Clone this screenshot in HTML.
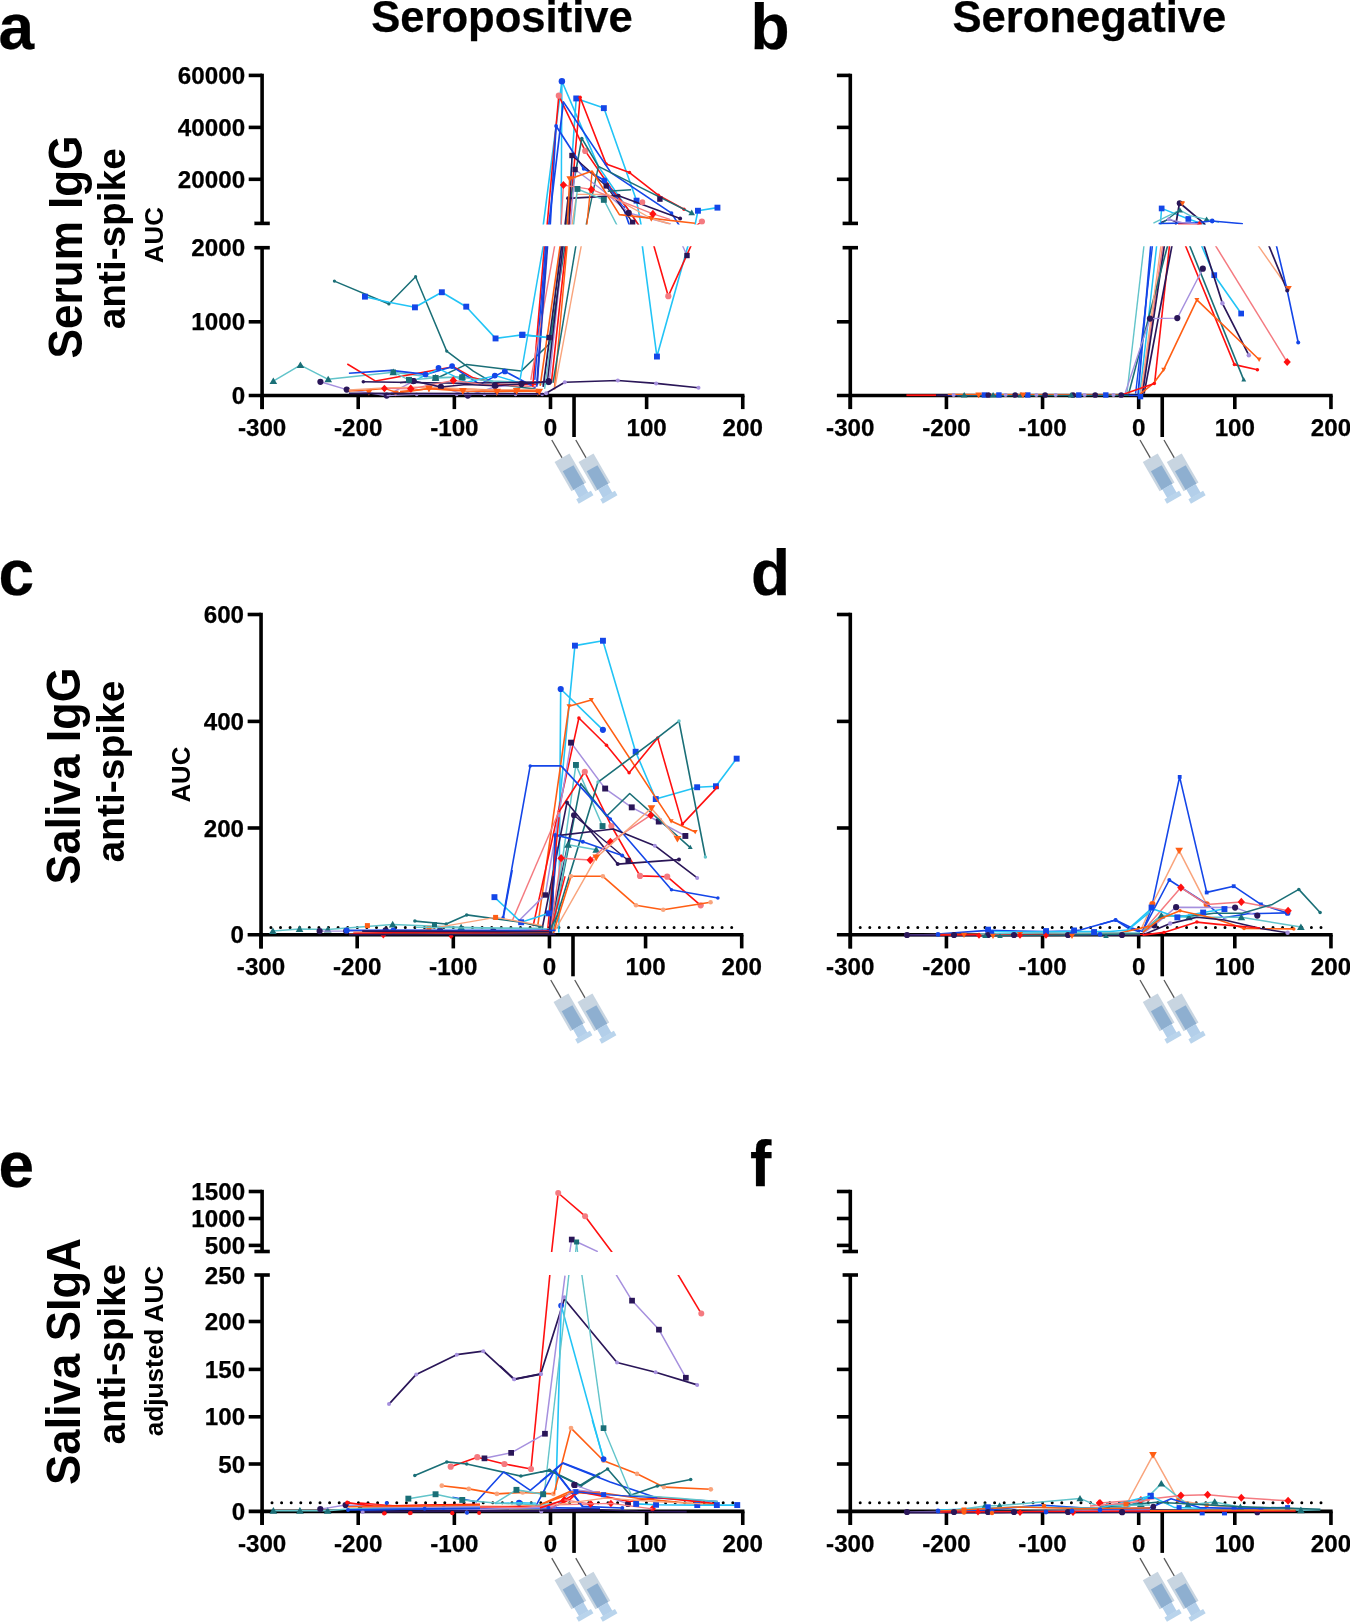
<!DOCTYPE html>
<html><head><meta charset="utf-8"><title>Figure</title>
<style>html,body{margin:0;padding:0;background:#fff;}svg{display:block;will-change:transform;}</style></head>
<body><svg width="1350" height="1623" viewBox="0 0 1350 1623">
<rect width="1350" height="1623" fill="#fff"/>
<defs><clipPath id="aU"><rect x="264" y="66" width="496" height="158.5"/></clipPath><clipPath id="aL"><rect x="264" y="246.3" width="496" height="154.7"/></clipPath><clipPath id="bU"><rect x="852" y="66" width="493" height="158.5"/></clipPath><clipPath id="bL"><rect x="852" y="246.3" width="493" height="154.7"/></clipPath><clipPath id="eU"><rect x="264" y="1185" width="496" height="67"/></clipPath><clipPath id="eL"><rect x="264" y="1275" width="496" height="242"/></clipPath><clipPath id="fU"><rect x="852" y="1185" width="493" height="67"/></clipPath><clipPath id="fL"><rect x="852" y="1275" width="493" height="242"/></clipPath></defs>
<line x1="262.10" y1="73.70" x2="262.10" y2="223.40" stroke="#000" stroke-width="3.6" stroke-linecap="butt"/>
<line x1="248.70" y1="75.40" x2="262.10" y2="75.40" stroke="#000" stroke-width="3.6" stroke-linecap="butt"/>
<text x="245.10" y="84.00" font-size="24.2" text-anchor="end" font-family="Liberation Sans, sans-serif" font-weight="bold" stroke="#000" stroke-width="0.25" >60000</text>
<line x1="248.70" y1="127.40" x2="262.10" y2="127.40" stroke="#000" stroke-width="3.6" stroke-linecap="butt"/>
<text x="245.10" y="136.00" font-size="24.2" text-anchor="end" font-family="Liberation Sans, sans-serif" font-weight="bold" stroke="#000" stroke-width="0.25" >40000</text>
<line x1="248.70" y1="179.30" x2="262.10" y2="179.30" stroke="#000" stroke-width="3.6" stroke-linecap="butt"/>
<text x="245.10" y="187.90" font-size="24.2" text-anchor="end" font-family="Liberation Sans, sans-serif" font-weight="bold" stroke="#000" stroke-width="0.25" >20000</text>
<line x1="254.40" y1="223.40" x2="269.80" y2="223.40" stroke="#000" stroke-width="3.6" stroke-linecap="butt"/>
<line x1="262.10" y1="247.70" x2="262.10" y2="409.10" stroke="#000" stroke-width="3.6" stroke-linecap="butt"/>
<line x1="254.40" y1="247.70" x2="269.80" y2="247.70" stroke="#000" stroke-width="3.6" stroke-linecap="butt"/>
<text x="245.10" y="256.30" font-size="24.2" text-anchor="end" font-family="Liberation Sans, sans-serif" font-weight="bold" stroke="#000" stroke-width="0.25" >2000</text>
<line x1="248.70" y1="321.80" x2="262.10" y2="321.80" stroke="#000" stroke-width="3.6" stroke-linecap="butt"/>
<text x="245.10" y="330.40" font-size="24.2" text-anchor="end" font-family="Liberation Sans, sans-serif" font-weight="bold" stroke="#000" stroke-width="0.25" >1000</text>
<text x="245.10" y="404.10" font-size="24.2" text-anchor="end" font-family="Liberation Sans, sans-serif" font-weight="bold" stroke="#000" stroke-width="0.25" >0</text>
<line x1="248.70" y1="395.50" x2="744.45" y2="395.50" stroke="#000" stroke-width="3.6" stroke-linecap="butt"/>
<line x1="262.10" y1="395.50" x2="262.10" y2="409.10" stroke="#000" stroke-width="3.6" stroke-linecap="butt"/>
<text x="262.10" y="435.80" font-size="24.2" text-anchor="middle" font-family="Liberation Sans, sans-serif" font-weight="bold" stroke="#000" stroke-width="0.25" >-300</text>
<line x1="358.23" y1="395.50" x2="358.23" y2="409.10" stroke="#000" stroke-width="3.6" stroke-linecap="butt"/>
<text x="358.23" y="435.80" font-size="24.2" text-anchor="middle" font-family="Liberation Sans, sans-serif" font-weight="bold" stroke="#000" stroke-width="0.25" >-200</text>
<line x1="454.36" y1="395.50" x2="454.36" y2="409.10" stroke="#000" stroke-width="3.6" stroke-linecap="butt"/>
<text x="454.36" y="435.80" font-size="24.2" text-anchor="middle" font-family="Liberation Sans, sans-serif" font-weight="bold" stroke="#000" stroke-width="0.25" >-100</text>
<line x1="550.49" y1="395.50" x2="550.49" y2="409.10" stroke="#000" stroke-width="3.6" stroke-linecap="butt"/>
<text x="550.49" y="435.80" font-size="24.2" text-anchor="middle" font-family="Liberation Sans, sans-serif" font-weight="bold" stroke="#000" stroke-width="0.25" >0</text>
<line x1="646.62" y1="395.50" x2="646.62" y2="409.10" stroke="#000" stroke-width="3.6" stroke-linecap="butt"/>
<text x="646.62" y="435.80" font-size="24.2" text-anchor="middle" font-family="Liberation Sans, sans-serif" font-weight="bold" stroke="#000" stroke-width="0.25" >100</text>
<line x1="742.75" y1="395.50" x2="742.75" y2="409.10" stroke="#000" stroke-width="3.6" stroke-linecap="butt"/>
<text x="742.75" y="435.80" font-size="24.2" text-anchor="middle" font-family="Liberation Sans, sans-serif" font-weight="bold" stroke="#000" stroke-width="0.25" >200</text>
<line x1="574.04" y1="395.50" x2="574.04" y2="437.00" stroke="#000" stroke-width="3.6" stroke-linecap="butt"/>
<g transform="translate(551.79,440.00) rotate(-30)"><line x1="0" y1="0" x2="0" y2="20.6" stroke="#5a5a5a" stroke-width="1.3"/><rect x="-8.6" y="20.5" width="17.2" height="33.6" fill="#c8d5e1"/><rect x="-6.2" y="32.6" width="12.4" height="21.6" fill="#8eafd0"/><rect x="-5.4" y="54" width="10.8" height="10" fill="#b3cfea"/><rect x="-8.5" y="63.6" width="17" height="5" fill="#b9d4ec"/></g>
<g transform="translate(575.79,440.00) rotate(-30)"><line x1="0" y1="0" x2="0" y2="20.6" stroke="#5a5a5a" stroke-width="1.3"/><rect x="-8.6" y="20.5" width="17.2" height="33.6" fill="#c8d5e1"/><rect x="-6.2" y="32.6" width="12.4" height="21.6" fill="#8eafd0"/><rect x="-5.4" y="54" width="10.8" height="10" fill="#b3cfea"/><rect x="-8.5" y="63.6" width="17" height="5" fill="#b9d4ec"/></g>
<line x1="850.30" y1="73.70" x2="850.30" y2="223.40" stroke="#000" stroke-width="3.6" stroke-linecap="butt"/>
<line x1="836.90" y1="75.40" x2="850.30" y2="75.40" stroke="#000" stroke-width="3.6" stroke-linecap="butt"/>
<line x1="836.90" y1="127.40" x2="850.30" y2="127.40" stroke="#000" stroke-width="3.6" stroke-linecap="butt"/>
<line x1="836.90" y1="179.30" x2="850.30" y2="179.30" stroke="#000" stroke-width="3.6" stroke-linecap="butt"/>
<line x1="842.60" y1="223.40" x2="858.00" y2="223.40" stroke="#000" stroke-width="3.6" stroke-linecap="butt"/>
<line x1="850.30" y1="247.70" x2="850.30" y2="409.10" stroke="#000" stroke-width="3.6" stroke-linecap="butt"/>
<line x1="842.60" y1="247.70" x2="858.00" y2="247.70" stroke="#000" stroke-width="3.6" stroke-linecap="butt"/>
<line x1="836.90" y1="321.80" x2="850.30" y2="321.80" stroke="#000" stroke-width="3.6" stroke-linecap="butt"/>
<line x1="836.90" y1="395.50" x2="1332.65" y2="395.50" stroke="#000" stroke-width="3.6" stroke-linecap="butt"/>
<line x1="850.30" y1="395.50" x2="850.30" y2="409.10" stroke="#000" stroke-width="3.6" stroke-linecap="butt"/>
<text x="850.30" y="435.80" font-size="24.2" text-anchor="middle" font-family="Liberation Sans, sans-serif" font-weight="bold" stroke="#000" stroke-width="0.25" >-300</text>
<line x1="946.43" y1="395.50" x2="946.43" y2="409.10" stroke="#000" stroke-width="3.6" stroke-linecap="butt"/>
<text x="946.43" y="435.80" font-size="24.2" text-anchor="middle" font-family="Liberation Sans, sans-serif" font-weight="bold" stroke="#000" stroke-width="0.25" >-200</text>
<line x1="1042.56" y1="395.50" x2="1042.56" y2="409.10" stroke="#000" stroke-width="3.6" stroke-linecap="butt"/>
<text x="1042.56" y="435.80" font-size="24.2" text-anchor="middle" font-family="Liberation Sans, sans-serif" font-weight="bold" stroke="#000" stroke-width="0.25" >-100</text>
<line x1="1138.69" y1="395.50" x2="1138.69" y2="409.10" stroke="#000" stroke-width="3.6" stroke-linecap="butt"/>
<text x="1138.69" y="435.80" font-size="24.2" text-anchor="middle" font-family="Liberation Sans, sans-serif" font-weight="bold" stroke="#000" stroke-width="0.25" >0</text>
<line x1="1234.82" y1="395.50" x2="1234.82" y2="409.10" stroke="#000" stroke-width="3.6" stroke-linecap="butt"/>
<text x="1234.82" y="435.80" font-size="24.2" text-anchor="middle" font-family="Liberation Sans, sans-serif" font-weight="bold" stroke="#000" stroke-width="0.25" >100</text>
<line x1="1330.95" y1="395.50" x2="1330.95" y2="409.10" stroke="#000" stroke-width="3.6" stroke-linecap="butt"/>
<text x="1330.95" y="435.80" font-size="24.2" text-anchor="middle" font-family="Liberation Sans, sans-serif" font-weight="bold" stroke="#000" stroke-width="0.25" >200</text>
<line x1="1162.24" y1="395.50" x2="1162.24" y2="437.00" stroke="#000" stroke-width="3.6" stroke-linecap="butt"/>
<g transform="translate(1139.99,440.00) rotate(-30)"><line x1="0" y1="0" x2="0" y2="20.6" stroke="#5a5a5a" stroke-width="1.3"/><rect x="-8.6" y="20.5" width="17.2" height="33.6" fill="#c8d5e1"/><rect x="-6.2" y="32.6" width="12.4" height="21.6" fill="#8eafd0"/><rect x="-5.4" y="54" width="10.8" height="10" fill="#b3cfea"/><rect x="-8.5" y="63.6" width="17" height="5" fill="#b9d4ec"/></g>
<g transform="translate(1163.99,440.00) rotate(-30)"><line x1="0" y1="0" x2="0" y2="20.6" stroke="#5a5a5a" stroke-width="1.3"/><rect x="-8.6" y="20.5" width="17.2" height="33.6" fill="#c8d5e1"/><rect x="-6.2" y="32.6" width="12.4" height="21.6" fill="#8eafd0"/><rect x="-5.4" y="54" width="10.8" height="10" fill="#b3cfea"/><rect x="-8.5" y="63.6" width="17" height="5" fill="#b9d4ec"/></g>
<line x1="261.05" y1="612.80" x2="261.05" y2="948.40" stroke="#000" stroke-width="3.6" stroke-linecap="butt"/>
<line x1="247.65" y1="614.50" x2="261.05" y2="614.50" stroke="#000" stroke-width="3.6" stroke-linecap="butt"/>
<text x="244.05" y="623.10" font-size="24.2" text-anchor="end" font-family="Liberation Sans, sans-serif" font-weight="bold" stroke="#000" stroke-width="0.25" >600</text>
<line x1="247.65" y1="721.40" x2="261.05" y2="721.40" stroke="#000" stroke-width="3.6" stroke-linecap="butt"/>
<text x="244.05" y="730.00" font-size="24.2" text-anchor="end" font-family="Liberation Sans, sans-serif" font-weight="bold" stroke="#000" stroke-width="0.25" >400</text>
<line x1="247.65" y1="828.00" x2="261.05" y2="828.00" stroke="#000" stroke-width="3.6" stroke-linecap="butt"/>
<text x="244.05" y="836.60" font-size="24.2" text-anchor="end" font-family="Liberation Sans, sans-serif" font-weight="bold" stroke="#000" stroke-width="0.25" >200</text>
<text x="244.05" y="943.40" font-size="24.2" text-anchor="end" font-family="Liberation Sans, sans-serif" font-weight="bold" stroke="#000" stroke-width="0.25" >0</text>
<line x1="247.65" y1="934.80" x2="743.40" y2="934.80" stroke="#000" stroke-width="3.6" stroke-linecap="butt"/>
<line x1="261.05" y1="934.80" x2="261.05" y2="948.40" stroke="#000" stroke-width="3.6" stroke-linecap="butt"/>
<text x="261.05" y="975.10" font-size="24.2" text-anchor="middle" font-family="Liberation Sans, sans-serif" font-weight="bold" stroke="#000" stroke-width="0.25" >-300</text>
<line x1="357.18" y1="934.80" x2="357.18" y2="948.40" stroke="#000" stroke-width="3.6" stroke-linecap="butt"/>
<text x="357.18" y="975.10" font-size="24.2" text-anchor="middle" font-family="Liberation Sans, sans-serif" font-weight="bold" stroke="#000" stroke-width="0.25" >-200</text>
<line x1="453.31" y1="934.80" x2="453.31" y2="948.40" stroke="#000" stroke-width="3.6" stroke-linecap="butt"/>
<text x="453.31" y="975.10" font-size="24.2" text-anchor="middle" font-family="Liberation Sans, sans-serif" font-weight="bold" stroke="#000" stroke-width="0.25" >-100</text>
<line x1="549.44" y1="934.80" x2="549.44" y2="948.40" stroke="#000" stroke-width="3.6" stroke-linecap="butt"/>
<text x="549.44" y="975.10" font-size="24.2" text-anchor="middle" font-family="Liberation Sans, sans-serif" font-weight="bold" stroke="#000" stroke-width="0.25" >0</text>
<line x1="645.57" y1="934.80" x2="645.57" y2="948.40" stroke="#000" stroke-width="3.6" stroke-linecap="butt"/>
<text x="645.57" y="975.10" font-size="24.2" text-anchor="middle" font-family="Liberation Sans, sans-serif" font-weight="bold" stroke="#000" stroke-width="0.25" >100</text>
<line x1="741.70" y1="934.80" x2="741.70" y2="948.40" stroke="#000" stroke-width="3.6" stroke-linecap="butt"/>
<text x="741.70" y="975.10" font-size="24.2" text-anchor="middle" font-family="Liberation Sans, sans-serif" font-weight="bold" stroke="#000" stroke-width="0.25" >200</text>
<line x1="572.99" y1="934.80" x2="572.99" y2="976.30" stroke="#000" stroke-width="3.6" stroke-linecap="butt"/>
<g transform="translate(550.74,980.00) rotate(-30)"><line x1="0" y1="0" x2="0" y2="20.6" stroke="#5a5a5a" stroke-width="1.3"/><rect x="-8.6" y="20.5" width="17.2" height="33.6" fill="#c8d5e1"/><rect x="-6.2" y="32.6" width="12.4" height="21.6" fill="#8eafd0"/><rect x="-5.4" y="54" width="10.8" height="10" fill="#b3cfea"/><rect x="-8.5" y="63.6" width="17" height="5" fill="#b9d4ec"/></g>
<g transform="translate(574.74,980.00) rotate(-30)"><line x1="0" y1="0" x2="0" y2="20.6" stroke="#5a5a5a" stroke-width="1.3"/><rect x="-8.6" y="20.5" width="17.2" height="33.6" fill="#c8d5e1"/><rect x="-6.2" y="32.6" width="12.4" height="21.6" fill="#8eafd0"/><rect x="-5.4" y="54" width="10.8" height="10" fill="#b3cfea"/><rect x="-8.5" y="63.6" width="17" height="5" fill="#b9d4ec"/></g>
<line x1="270.9" y1="927.5" x2="734.7" y2="927.5" stroke="#000" stroke-width="3.0" stroke-dasharray="0 9.6" stroke-linecap="round"/>
<line x1="850.30" y1="612.80" x2="850.30" y2="948.40" stroke="#000" stroke-width="3.6" stroke-linecap="butt"/>
<line x1="836.90" y1="614.50" x2="850.30" y2="614.50" stroke="#000" stroke-width="3.6" stroke-linecap="butt"/>
<line x1="836.90" y1="721.40" x2="850.30" y2="721.40" stroke="#000" stroke-width="3.6" stroke-linecap="butt"/>
<line x1="836.90" y1="828.00" x2="850.30" y2="828.00" stroke="#000" stroke-width="3.6" stroke-linecap="butt"/>
<line x1="836.90" y1="934.80" x2="1332.65" y2="934.80" stroke="#000" stroke-width="3.6" stroke-linecap="butt"/>
<line x1="850.30" y1="934.80" x2="850.30" y2="948.40" stroke="#000" stroke-width="3.6" stroke-linecap="butt"/>
<text x="850.30" y="975.10" font-size="24.2" text-anchor="middle" font-family="Liberation Sans, sans-serif" font-weight="bold" stroke="#000" stroke-width="0.25" >-300</text>
<line x1="946.43" y1="934.80" x2="946.43" y2="948.40" stroke="#000" stroke-width="3.6" stroke-linecap="butt"/>
<text x="946.43" y="975.10" font-size="24.2" text-anchor="middle" font-family="Liberation Sans, sans-serif" font-weight="bold" stroke="#000" stroke-width="0.25" >-200</text>
<line x1="1042.56" y1="934.80" x2="1042.56" y2="948.40" stroke="#000" stroke-width="3.6" stroke-linecap="butt"/>
<text x="1042.56" y="975.10" font-size="24.2" text-anchor="middle" font-family="Liberation Sans, sans-serif" font-weight="bold" stroke="#000" stroke-width="0.25" >-100</text>
<line x1="1138.69" y1="934.80" x2="1138.69" y2="948.40" stroke="#000" stroke-width="3.6" stroke-linecap="butt"/>
<text x="1138.69" y="975.10" font-size="24.2" text-anchor="middle" font-family="Liberation Sans, sans-serif" font-weight="bold" stroke="#000" stroke-width="0.25" >0</text>
<line x1="1234.82" y1="934.80" x2="1234.82" y2="948.40" stroke="#000" stroke-width="3.6" stroke-linecap="butt"/>
<text x="1234.82" y="975.10" font-size="24.2" text-anchor="middle" font-family="Liberation Sans, sans-serif" font-weight="bold" stroke="#000" stroke-width="0.25" >100</text>
<line x1="1330.95" y1="934.80" x2="1330.95" y2="948.40" stroke="#000" stroke-width="3.6" stroke-linecap="butt"/>
<text x="1330.95" y="975.10" font-size="24.2" text-anchor="middle" font-family="Liberation Sans, sans-serif" font-weight="bold" stroke="#000" stroke-width="0.25" >200</text>
<line x1="1162.24" y1="934.80" x2="1162.24" y2="976.30" stroke="#000" stroke-width="3.6" stroke-linecap="butt"/>
<g transform="translate(1139.99,980.00) rotate(-30)"><line x1="0" y1="0" x2="0" y2="20.6" stroke="#5a5a5a" stroke-width="1.3"/><rect x="-8.6" y="20.5" width="17.2" height="33.6" fill="#c8d5e1"/><rect x="-6.2" y="32.6" width="12.4" height="21.6" fill="#8eafd0"/><rect x="-5.4" y="54" width="10.8" height="10" fill="#b3cfea"/><rect x="-8.5" y="63.6" width="17" height="5" fill="#b9d4ec"/></g>
<g transform="translate(1163.99,980.00) rotate(-30)"><line x1="0" y1="0" x2="0" y2="20.6" stroke="#5a5a5a" stroke-width="1.3"/><rect x="-8.6" y="20.5" width="17.2" height="33.6" fill="#c8d5e1"/><rect x="-6.2" y="32.6" width="12.4" height="21.6" fill="#8eafd0"/><rect x="-5.4" y="54" width="10.8" height="10" fill="#b3cfea"/><rect x="-8.5" y="63.6" width="17" height="5" fill="#b9d4ec"/></g>
<line x1="860.2" y1="927.5" x2="1324.0" y2="927.5" stroke="#000" stroke-width="3.0" stroke-dasharray="0 9.6" stroke-linecap="round"/>
<line x1="262.10" y1="1189.80" x2="262.10" y2="1251.50" stroke="#000" stroke-width="3.6" stroke-linecap="butt"/>
<line x1="248.70" y1="1191.50" x2="262.10" y2="1191.50" stroke="#000" stroke-width="3.6" stroke-linecap="butt"/>
<text x="245.10" y="1200.10" font-size="24.2" text-anchor="end" font-family="Liberation Sans, sans-serif" font-weight="bold" stroke="#000" stroke-width="0.25" >1500</text>
<line x1="248.70" y1="1218.50" x2="262.10" y2="1218.50" stroke="#000" stroke-width="3.6" stroke-linecap="butt"/>
<text x="245.10" y="1227.10" font-size="24.2" text-anchor="end" font-family="Liberation Sans, sans-serif" font-weight="bold" stroke="#000" stroke-width="0.25" >1000</text>
<line x1="248.70" y1="1245.40" x2="262.10" y2="1245.40" stroke="#000" stroke-width="3.6" stroke-linecap="butt"/>
<text x="245.10" y="1254.00" font-size="24.2" text-anchor="end" font-family="Liberation Sans, sans-serif" font-weight="bold" stroke="#000" stroke-width="0.25" >500</text>
<line x1="254.40" y1="1251.50" x2="269.80" y2="1251.50" stroke="#000" stroke-width="3.6" stroke-linecap="butt"/>
<line x1="262.10" y1="1275.00" x2="262.10" y2="1525.00" stroke="#000" stroke-width="3.6" stroke-linecap="butt"/>
<line x1="254.40" y1="1275.00" x2="269.80" y2="1275.00" stroke="#000" stroke-width="3.6" stroke-linecap="butt"/>
<text x="245.10" y="1283.60" font-size="24.2" text-anchor="end" font-family="Liberation Sans, sans-serif" font-weight="bold" stroke="#000" stroke-width="0.25" >250</text>
<line x1="248.70" y1="1321.50" x2="262.10" y2="1321.50" stroke="#000" stroke-width="3.6" stroke-linecap="butt"/>
<text x="245.10" y="1330.10" font-size="24.2" text-anchor="end" font-family="Liberation Sans, sans-serif" font-weight="bold" stroke="#000" stroke-width="0.25" >200</text>
<line x1="248.70" y1="1369.40" x2="262.10" y2="1369.40" stroke="#000" stroke-width="3.6" stroke-linecap="butt"/>
<text x="245.10" y="1378.00" font-size="24.2" text-anchor="end" font-family="Liberation Sans, sans-serif" font-weight="bold" stroke="#000" stroke-width="0.25" >150</text>
<line x1="248.70" y1="1416.80" x2="262.10" y2="1416.80" stroke="#000" stroke-width="3.6" stroke-linecap="butt"/>
<text x="245.10" y="1425.40" font-size="24.2" text-anchor="end" font-family="Liberation Sans, sans-serif" font-weight="bold" stroke="#000" stroke-width="0.25" >100</text>
<line x1="248.70" y1="1464.00" x2="262.10" y2="1464.00" stroke="#000" stroke-width="3.6" stroke-linecap="butt"/>
<text x="245.10" y="1472.60" font-size="24.2" text-anchor="end" font-family="Liberation Sans, sans-serif" font-weight="bold" stroke="#000" stroke-width="0.25" >50</text>
<text x="245.10" y="1520.00" font-size="24.2" text-anchor="end" font-family="Liberation Sans, sans-serif" font-weight="bold" stroke="#000" stroke-width="0.25" >0</text>
<line x1="248.70" y1="1511.40" x2="744.45" y2="1511.40" stroke="#000" stroke-width="3.6" stroke-linecap="butt"/>
<line x1="262.10" y1="1511.40" x2="262.10" y2="1525.00" stroke="#000" stroke-width="3.6" stroke-linecap="butt"/>
<text x="262.10" y="1551.70" font-size="24.2" text-anchor="middle" font-family="Liberation Sans, sans-serif" font-weight="bold" stroke="#000" stroke-width="0.25" >-300</text>
<line x1="358.23" y1="1511.40" x2="358.23" y2="1525.00" stroke="#000" stroke-width="3.6" stroke-linecap="butt"/>
<text x="358.23" y="1551.70" font-size="24.2" text-anchor="middle" font-family="Liberation Sans, sans-serif" font-weight="bold" stroke="#000" stroke-width="0.25" >-200</text>
<line x1="454.36" y1="1511.40" x2="454.36" y2="1525.00" stroke="#000" stroke-width="3.6" stroke-linecap="butt"/>
<text x="454.36" y="1551.70" font-size="24.2" text-anchor="middle" font-family="Liberation Sans, sans-serif" font-weight="bold" stroke="#000" stroke-width="0.25" >-100</text>
<line x1="550.49" y1="1511.40" x2="550.49" y2="1525.00" stroke="#000" stroke-width="3.6" stroke-linecap="butt"/>
<text x="550.49" y="1551.70" font-size="24.2" text-anchor="middle" font-family="Liberation Sans, sans-serif" font-weight="bold" stroke="#000" stroke-width="0.25" >0</text>
<line x1="646.62" y1="1511.40" x2="646.62" y2="1525.00" stroke="#000" stroke-width="3.6" stroke-linecap="butt"/>
<text x="646.62" y="1551.70" font-size="24.2" text-anchor="middle" font-family="Liberation Sans, sans-serif" font-weight="bold" stroke="#000" stroke-width="0.25" >100</text>
<line x1="742.75" y1="1511.40" x2="742.75" y2="1525.00" stroke="#000" stroke-width="3.6" stroke-linecap="butt"/>
<text x="742.75" y="1551.70" font-size="24.2" text-anchor="middle" font-family="Liberation Sans, sans-serif" font-weight="bold" stroke="#000" stroke-width="0.25" >200</text>
<line x1="574.04" y1="1511.40" x2="574.04" y2="1552.90" stroke="#000" stroke-width="3.6" stroke-linecap="butt"/>
<g transform="translate(551.79,1558.20) rotate(-30)"><line x1="0" y1="0" x2="0" y2="20.6" stroke="#5a5a5a" stroke-width="1.3"/><rect x="-8.6" y="20.5" width="17.2" height="33.6" fill="#c8d5e1"/><rect x="-6.2" y="32.6" width="12.4" height="21.6" fill="#8eafd0"/><rect x="-5.4" y="54" width="10.8" height="10" fill="#b3cfea"/><rect x="-8.5" y="63.6" width="17" height="5" fill="#b9d4ec"/></g>
<g transform="translate(575.79,1558.20) rotate(-30)"><line x1="0" y1="0" x2="0" y2="20.6" stroke="#5a5a5a" stroke-width="1.3"/><rect x="-8.6" y="20.5" width="17.2" height="33.6" fill="#c8d5e1"/><rect x="-6.2" y="32.6" width="12.4" height="21.6" fill="#8eafd0"/><rect x="-5.4" y="54" width="10.8" height="10" fill="#b3cfea"/><rect x="-8.5" y="63.6" width="17" height="5" fill="#b9d4ec"/></g>
<line x1="272.0" y1="1502.8" x2="735.8" y2="1502.8" stroke="#000" stroke-width="3.0" stroke-dasharray="0 9.6" stroke-linecap="round"/>
<line x1="850.30" y1="1189.80" x2="850.30" y2="1251.50" stroke="#000" stroke-width="3.6" stroke-linecap="butt"/>
<line x1="836.90" y1="1191.50" x2="850.30" y2="1191.50" stroke="#000" stroke-width="3.6" stroke-linecap="butt"/>
<line x1="836.90" y1="1218.50" x2="850.30" y2="1218.50" stroke="#000" stroke-width="3.6" stroke-linecap="butt"/>
<line x1="836.90" y1="1245.40" x2="850.30" y2="1245.40" stroke="#000" stroke-width="3.6" stroke-linecap="butt"/>
<line x1="842.60" y1="1251.50" x2="858.00" y2="1251.50" stroke="#000" stroke-width="3.6" stroke-linecap="butt"/>
<line x1="850.30" y1="1275.00" x2="850.30" y2="1525.00" stroke="#000" stroke-width="3.6" stroke-linecap="butt"/>
<line x1="842.60" y1="1275.00" x2="858.00" y2="1275.00" stroke="#000" stroke-width="3.6" stroke-linecap="butt"/>
<line x1="836.90" y1="1321.50" x2="850.30" y2="1321.50" stroke="#000" stroke-width="3.6" stroke-linecap="butt"/>
<line x1="836.90" y1="1369.40" x2="850.30" y2="1369.40" stroke="#000" stroke-width="3.6" stroke-linecap="butt"/>
<line x1="836.90" y1="1416.80" x2="850.30" y2="1416.80" stroke="#000" stroke-width="3.6" stroke-linecap="butt"/>
<line x1="836.90" y1="1464.00" x2="850.30" y2="1464.00" stroke="#000" stroke-width="3.6" stroke-linecap="butt"/>
<line x1="836.90" y1="1511.40" x2="1332.65" y2="1511.40" stroke="#000" stroke-width="3.6" stroke-linecap="butt"/>
<line x1="850.30" y1="1511.40" x2="850.30" y2="1525.00" stroke="#000" stroke-width="3.6" stroke-linecap="butt"/>
<text x="850.30" y="1551.70" font-size="24.2" text-anchor="middle" font-family="Liberation Sans, sans-serif" font-weight="bold" stroke="#000" stroke-width="0.25" >-300</text>
<line x1="946.43" y1="1511.40" x2="946.43" y2="1525.00" stroke="#000" stroke-width="3.6" stroke-linecap="butt"/>
<text x="946.43" y="1551.70" font-size="24.2" text-anchor="middle" font-family="Liberation Sans, sans-serif" font-weight="bold" stroke="#000" stroke-width="0.25" >-200</text>
<line x1="1042.56" y1="1511.40" x2="1042.56" y2="1525.00" stroke="#000" stroke-width="3.6" stroke-linecap="butt"/>
<text x="1042.56" y="1551.70" font-size="24.2" text-anchor="middle" font-family="Liberation Sans, sans-serif" font-weight="bold" stroke="#000" stroke-width="0.25" >-100</text>
<line x1="1138.69" y1="1511.40" x2="1138.69" y2="1525.00" stroke="#000" stroke-width="3.6" stroke-linecap="butt"/>
<text x="1138.69" y="1551.70" font-size="24.2" text-anchor="middle" font-family="Liberation Sans, sans-serif" font-weight="bold" stroke="#000" stroke-width="0.25" >0</text>
<line x1="1234.82" y1="1511.40" x2="1234.82" y2="1525.00" stroke="#000" stroke-width="3.6" stroke-linecap="butt"/>
<text x="1234.82" y="1551.70" font-size="24.2" text-anchor="middle" font-family="Liberation Sans, sans-serif" font-weight="bold" stroke="#000" stroke-width="0.25" >100</text>
<line x1="1330.95" y1="1511.40" x2="1330.95" y2="1525.00" stroke="#000" stroke-width="3.6" stroke-linecap="butt"/>
<text x="1330.95" y="1551.70" font-size="24.2" text-anchor="middle" font-family="Liberation Sans, sans-serif" font-weight="bold" stroke="#000" stroke-width="0.25" >200</text>
<line x1="1162.24" y1="1511.40" x2="1162.24" y2="1552.90" stroke="#000" stroke-width="3.6" stroke-linecap="butt"/>
<g transform="translate(1139.99,1558.20) rotate(-30)"><line x1="0" y1="0" x2="0" y2="20.6" stroke="#5a5a5a" stroke-width="1.3"/><rect x="-8.6" y="20.5" width="17.2" height="33.6" fill="#c8d5e1"/><rect x="-6.2" y="32.6" width="12.4" height="21.6" fill="#8eafd0"/><rect x="-5.4" y="54" width="10.8" height="10" fill="#b3cfea"/><rect x="-8.5" y="63.6" width="17" height="5" fill="#b9d4ec"/></g>
<g transform="translate(1163.99,1558.20) rotate(-30)"><line x1="0" y1="0" x2="0" y2="20.6" stroke="#5a5a5a" stroke-width="1.3"/><rect x="-8.6" y="20.5" width="17.2" height="33.6" fill="#c8d5e1"/><rect x="-6.2" y="32.6" width="12.4" height="21.6" fill="#8eafd0"/><rect x="-5.4" y="54" width="10.8" height="10" fill="#b3cfea"/><rect x="-8.5" y="63.6" width="17" height="5" fill="#b9d4ec"/></g>
<line x1="860.2" y1="1502.8" x2="1324.0" y2="1502.8" stroke="#000" stroke-width="3.0" stroke-dasharray="0 9.6" stroke-linecap="round"/>
<text x="502.00" y="32.00" font-size="43.6" text-anchor="middle" font-family="Liberation Sans, sans-serif" font-weight="bold" stroke="#000" stroke-width="0.25" >Seropositive</text>
<text x="1089.40" y="32.00" font-size="43.6" text-anchor="middle" font-family="Liberation Sans, sans-serif" font-weight="bold" stroke="#000" stroke-width="0.25" >Seronegative</text>
<text x="-1.50" y="48.70" font-size="64" text-anchor="start" font-family="Liberation Sans, sans-serif" font-weight="bold" stroke="#000" stroke-width="0.25" >a</text>
<text x="750.50" y="48.70" font-size="64" text-anchor="start" font-family="Liberation Sans, sans-serif" font-weight="bold" stroke="#000" stroke-width="0.25" >b</text>
<text x="-1.50" y="595.00" font-size="64" text-anchor="start" font-family="Liberation Sans, sans-serif" font-weight="bold" stroke="#000" stroke-width="0.25" >c</text>
<text x="751.00" y="595.00" font-size="64" text-anchor="start" font-family="Liberation Sans, sans-serif" font-weight="bold" stroke="#000" stroke-width="0.25" >d</text>
<text x="-1.50" y="1186.50" font-size="64" text-anchor="start" font-family="Liberation Sans, sans-serif" font-weight="bold" stroke="#000" stroke-width="0.25" >e</text>
<text x="750.00" y="1186.00" font-size="64" text-anchor="start" font-family="Liberation Sans, sans-serif" font-weight="bold" stroke="#000" stroke-width="0.25" >f</text>
<text transform="translate(81.50,246.90) rotate(-90)" font-size="48" text-anchor="middle" font-family="Liberation Sans, sans-serif" font-weight="bold" textLength="223" lengthAdjust="spacingAndGlyphs">Serum IgG</text>
<text transform="translate(125.00,238.80) rotate(-90)" font-size="38" text-anchor="middle" font-family="Liberation Sans, sans-serif" font-weight="bold" textLength="181" lengthAdjust="spacingAndGlyphs">anti-spike</text>
<text transform="translate(163.00,235.20) rotate(-90)" font-size="26.5" text-anchor="middle" font-family="Liberation Sans, sans-serif" font-weight="bold" textLength="56" lengthAdjust="spacingAndGlyphs">AUC</text>
<text transform="translate(79.50,775.90) rotate(-90)" font-size="48" text-anchor="middle" font-family="Liberation Sans, sans-serif" font-weight="bold" textLength="217" lengthAdjust="spacingAndGlyphs">Saliva IgG</text>
<text transform="translate(124.00,771.60) rotate(-90)" font-size="38" text-anchor="middle" font-family="Liberation Sans, sans-serif" font-weight="bold" textLength="182" lengthAdjust="spacingAndGlyphs">anti-spike</text>
<text transform="translate(190.30,774.60) rotate(-90)" font-size="26.5" text-anchor="middle" font-family="Liberation Sans, sans-serif" font-weight="bold" textLength="56" lengthAdjust="spacingAndGlyphs">AUC</text>
<text transform="translate(79.50,1361.50) rotate(-90)" font-size="48" text-anchor="middle" font-family="Liberation Sans, sans-serif" font-weight="bold" textLength="247" lengthAdjust="spacingAndGlyphs">Saliva SIgA</text>
<text transform="translate(124.50,1354.20) rotate(-90)" font-size="38" text-anchor="middle" font-family="Liberation Sans, sans-serif" font-weight="bold" textLength="180.5" lengthAdjust="spacingAndGlyphs">anti-spike</text>
<text transform="translate(163.00,1351.00) rotate(-90)" font-size="26" text-anchor="middle" font-family="Liberation Sans, sans-serif" font-weight="bold" textLength="170.5" lengthAdjust="spacingAndGlyphs">adjusted AUC</text>
<polyline points="334.4,281.1 388.9,304.0 415.6,276.7 446.7,351.1 473.3,371.1 495.6,384.4 535.6,388.9" fill="none" stroke="#1a6f77" stroke-width="1.5" stroke-linejoin="round" clip-path="url(#aL)"/>
<polyline points="437.8,377.8 466.7,364.4 521.1,371.1 550.0,343.3" fill="none" stroke="#1a6f77" stroke-width="1.5" stroke-linejoin="round" clip-path="url(#aL)"/>
<polyline points="364.9,296.7 388.9,302.2 414.9,307.3 441.8,292.2 466.2,306.7 495.6,338.4 522.2,334.9 548.9,337.8" fill="none" stroke="#22c4f6" stroke-width="1.6" stroke-linejoin="round" clip-path="url(#aL)"/>
<g fill="#1446e8" clip-path="url(#aL)"><rect x="362.0" y="293.7" width="5.9" height="5.9"/><rect x="412.0" y="304.4" width="5.9" height="5.9"/><rect x="438.9" y="289.3" width="5.9" height="5.9"/><rect x="463.3" y="303.7" width="5.9" height="5.9"/><rect x="492.6" y="335.5" width="5.9" height="5.9"/><rect x="519.3" y="332.0" width="5.9" height="5.9"/></g>
<g fill="#1a6f77" clip-path="url(#aL)"><circle cx="334.4" cy="281.1" r="1.60"/><circle cx="388.9" cy="304.0" r="1.60"/><circle cx="415.6" cy="276.7" r="1.60"/><circle cx="446.7" cy="351.1" r="1.60"/></g>
<polyline points="273.3,381.1 300.4,365.1 328.2,379.3 393.3,372.2 435.6,377.8 462.2,376.7 493.3,381.1 524.4,382.2 548.9,384.4" fill="none" stroke="#62c4ca" stroke-width="1.5" stroke-linejoin="round" clip-path="url(#aL)"/>
<g fill="#1a6f77" clip-path="url(#aL)"><polygon points="273.3,377.4 277.2,384.1 269.5,384.1"/><polygon points="300.4,361.4 304.3,368.1 296.6,368.1"/><polygon points="328.2,375.7 332.1,382.3 324.4,382.3"/><polygon points="393.3,368.5 397.2,375.2 389.5,375.2"/><polygon points="435.6,374.1 439.4,380.8 431.7,380.8"/><polygon points="462.2,373.0 466.1,379.6 458.4,379.6"/></g>
<polyline points="320.4,381.8 346.7,389.6 386.7,395.6 413.3,381.1 440.0,386.7 467.8,395.6 495.6,386.7 548.9,381.8" fill="none" stroke="#a690de" stroke-width="1.5" stroke-linejoin="round" clip-path="url(#aL)"/>
<g fill="#2a1658" clip-path="url(#aL)"><circle cx="320.4" cy="381.8" r="3.09"/><circle cx="346.7" cy="389.6" r="3.09"/><circle cx="386.7" cy="395.6" r="3.09"/><circle cx="413.3" cy="381.1" r="3.09"/><circle cx="467.8" cy="395.6" r="3.09"/><circle cx="495.6" cy="385.6" r="3.09"/><circle cx="548.9" cy="381.8" r="3.09"/></g>
<polyline points="347.3,364.0 375.6,381.1 453.3,366.7 473.3,377.8 500.0,384.4 537.8,384.4" fill="none" stroke="#ff1010" stroke-width="1.5" stroke-linejoin="round" clip-path="url(#aL)"/>
<polyline points="348.9,373.3 391.1,370.4 425.6,374.4 452.2,366.7 480.0,384.4 504.4,371.1 535.6,387.8" fill="none" stroke="#1446e8" stroke-width="1.6" stroke-linejoin="round" clip-path="url(#aL)"/>
<g fill="#1446e8" clip-path="url(#aL)"><circle cx="438.9" cy="368.9" r="2.38"/><circle cx="495.6" cy="375.6" r="2.38"/><circle cx="504.4" cy="371.1" r="2.38"/></g>
<polyline points="413.3,381.1 438.9,368.9 466.7,382.2 495.6,375.6 521.1,383.3" fill="none" stroke="#22c4f6" stroke-width="1.4" stroke-linejoin="round" clip-path="url(#aL)"/>
<polyline points="363.3,381.8 460.0,383.3 548.9,381.8" fill="none" stroke="#2a1658" stroke-width="1.6" stroke-linejoin="round" clip-path="url(#aL)"/>
<g fill="#2a1658" clip-path="url(#aL)"><circle cx="363.3" cy="381.8" r="1.75"/><circle cx="522.2" cy="383.6" r="1.75"/></g>
<polyline points="348.9,391.1 366.7,390.0 384.4,388.4 397.8,392.9 428.9,388.4 460.0,388.9 495.6,390.0 537.8,391.1" fill="none" stroke="#ff5e14" stroke-width="1.5" stroke-linejoin="round" clip-path="url(#aL)"/>
<g fill="#ff5e14" clip-path="url(#aL)"><polygon points="368.9,395.4 372.2,389.7 365.6,389.7"/><polygon points="395.6,396.5 398.9,390.8 392.3,390.8"/><polygon points="428.9,392.0 432.2,386.3 425.6,386.3"/><polygon points="463.3,394.3 466.6,388.6 460.0,388.6"/><polygon points="496.7,396.0 500.0,390.3 493.4,390.3"/><polygon points="515.6,395.6 518.9,389.9 512.3,389.9"/><polygon points="537.8,396.0 541.1,390.3 534.5,390.3"/></g>
<polyline points="348.9,390.0 384.4,387.8 415.6,387.1 446.7,387.8 482.2,390.0 537.8,389.3" fill="none" stroke="#f9a47c" stroke-width="1.3" stroke-linejoin="round" clip-path="url(#aL)"/>
<polyline points="384.4,388.4 411.1,388.9 453.3,380.4 482.2,384.4 535.6,386.7" fill="none" stroke="#f47a80" stroke-width="1.3" stroke-linejoin="round" clip-path="url(#aL)"/>
<g fill="#ff1010" clip-path="url(#aL)"><polygon points="384.4,384.7 387.9,388.4 384.4,392.2 381.0,388.4"/><polygon points="411.1,385.2 414.5,388.9 411.1,392.6 407.7,388.9"/><polygon points="453.3,376.7 456.7,380.4 453.3,384.2 449.9,380.4"/></g>
<polyline points="393.3,372.2 408.9,380.0 435.6,377.8 462.2,377.3 493.3,381.8" fill="none" stroke="#62c4ca" stroke-width="1.3" stroke-linejoin="round" clip-path="url(#aL)"/>
<g fill="#1a6f77" clip-path="url(#aL)"><rect x="390.6" y="369.5" width="5.4" height="5.4"/><rect x="406.2" y="377.3" width="5.4" height="5.4"/><rect x="432.9" y="375.1" width="5.4" height="5.4"/><rect x="459.5" y="374.6" width="5.4" height="5.4"/></g>
<polyline points="386.7,395.6 416.7,394.4 456.7,394.4 484.4,394.4 515.6,394.4 542.2,394.4" fill="none" stroke="#a690de" stroke-width="1.3" stroke-linejoin="round" clip-path="url(#aL)"/>
<g fill="#a690de" clip-path="url(#aL)"><circle cx="416.7" cy="394.4" r="1.80"/><circle cx="456.7" cy="394.4" r="1.80"/><circle cx="484.4" cy="394.4" r="1.80"/><circle cx="515.6" cy="394.4" r="1.80"/><circle cx="542.2" cy="394.4" r="1.80"/></g>
<polyline points="348.9,393.3 548.9,393.8" fill="none" stroke="#2a1658" stroke-width="1.8" stroke-linejoin="round" clip-path="url(#aL)"/>
<polyline points="543.6,243.9 520.0,379.9" fill="none" stroke="#22c4f6" stroke-width="1.5" stroke-linejoin="round" clip-path="url(#aL)"/>
<polyline points="544.6,243.9 532.8,386.8" fill="none" stroke="#ff1010" stroke-width="1.6" stroke-linejoin="round" clip-path="url(#aL)"/>
<polyline points="546.6,243.9 536.7,386.8" fill="none" stroke="#1446e8" stroke-width="1.8" stroke-linejoin="round" clip-path="url(#aL)"/>
<polyline points="545.8,243.9 534.8,379.9" fill="none" stroke="#1446e8" stroke-width="1.4" stroke-linejoin="round" clip-path="url(#aL)"/>
<polyline points="555.0,243.9 530.8,379.9" fill="none" stroke="#f47a80" stroke-width="1.4" stroke-linejoin="round" clip-path="url(#aL)"/>
<polyline points="560.4,243.9 540.2,385.8" fill="none" stroke="#ff5e14" stroke-width="1.6" stroke-linejoin="round" clip-path="url(#aL)"/>
<polyline points="561.9,243.9 543.2,386.8" fill="none" stroke="#2a1658" stroke-width="1.8" stroke-linejoin="round" clip-path="url(#aL)"/>
<polyline points="563.8,243.9 544.6,388.8" fill="none" stroke="#62c4ca" stroke-width="1.4" stroke-linejoin="round" clip-path="url(#aL)"/>
<polyline points="565.3,243.9 549.6,343.4" fill="none" stroke="#1a6f77" stroke-width="1.6" stroke-linejoin="round" clip-path="url(#aL)"/>
<polyline points="566.3,243.9 551.5,381.9" fill="none" stroke="#ff1010" stroke-width="1.6" stroke-linejoin="round" clip-path="url(#aL)"/>
<polyline points="567.3,243.9 554.5,387.8" fill="none" stroke="#ff5e14" stroke-width="1.5" stroke-linejoin="round" clip-path="url(#aL)"/>
<polyline points="581.6,243.9 554.5,389.8" fill="none" stroke="#f9a47c" stroke-width="1.4" stroke-linejoin="round" clip-path="url(#aL)"/>
<polyline points="576.2,243.9 553.0,382.9" fill="none" stroke="#1a6f77" stroke-width="1.5" stroke-linejoin="round" clip-path="url(#aL)"/>
<polyline points="563.3,243.9 549.6,377.9" fill="none" stroke="#a690de" stroke-width="1.4" stroke-linejoin="round" clip-path="url(#aL)"/>
<polyline points="563.2,243.9 547.6,379.9" fill="none" stroke="#2a1658" stroke-width="1.5" stroke-linejoin="round" clip-path="url(#aL)"/>
<polyline points="547.8,243.9 537.2,384.8" fill="none" stroke="#2438c0" stroke-width="1.5" stroke-linejoin="round" clip-path="url(#aL)"/>
<polyline points="522.5,334.6 548.6,337.5" fill="none" stroke="#22c4f6" stroke-width="1.6" stroke-linejoin="round" clip-path="url(#aL)"/>
<g fill="#1446e8" clip-path="url(#aL)"><rect x="519.5" y="331.7" width="5.9" height="5.9"/></g>
<g fill="#2a1658" clip-path="url(#aL)"><rect x="546.4" y="334.8" width="5.4" height="5.4"/></g>
<g fill="#2a1658" clip-path="url(#aL)"><circle cx="548.6" cy="380.9" r="2.85"/></g>
<polyline points="546.1,393.2 564.8,382.3 617.8,380.5 656.1,383.4 698.5,387.8" fill="none" stroke="#2a1658" stroke-width="1.6" stroke-linejoin="round" clip-path="url(#aL)"/>
<g fill="#a690de" clip-path="url(#aL)"><circle cx="546.1" cy="393.2" r="2.00"/><circle cx="564.8" cy="382.3" r="2.00"/><circle cx="617.8" cy="380.5" r="2.00"/><circle cx="656.1" cy="383.4" r="2.00"/><circle cx="698.5" cy="387.8" r="2.00"/></g>
<polyline points="642.2,244.9 656.9,356.5 688.2,244.9" fill="none" stroke="#22c4f6" stroke-width="1.6" stroke-linejoin="round" clip-path="url(#aL)"/>
<g fill="#1446e8" clip-path="url(#aL)"><rect x="654.0" y="353.6" width="5.9" height="5.9"/></g>
<polyline points="653.6,244.9 668.3,296.2 691.4,244.9" fill="none" stroke="#ff1010" stroke-width="1.6" stroke-linejoin="round" clip-path="url(#aL)"/>
<g fill="#f47a80" clip-path="url(#aL)"><circle cx="668.3" cy="296.2" r="3.09"/></g>
<polyline points="682.2,244.9 687.0,255.5" fill="none" stroke="#a690de" stroke-width="1.4" stroke-linejoin="round" clip-path="url(#aL)"/>
<g fill="#2a1658" clip-path="url(#aL)"><rect x="684.3" y="252.8" width="5.4" height="5.4"/></g>
<polyline points="543.2,225.5 561.9,81.2 598.4,166.4 638.9,225.5" fill="none" stroke="#22c4f6" stroke-width="1.6" stroke-linejoin="round" clip-path="url(#aU)"/>
<polyline points="561.1,225.5 561.9,81.2" fill="none" stroke="#22c4f6" stroke-width="1.5" stroke-linejoin="round" clip-path="url(#aU)"/>
<g fill="#1446e8" clip-path="url(#aU)"><circle cx="561.9" cy="81.2" r="3.23"/></g>
<polyline points="567.3,225.5 576.2,98.5 603.9,108.1 636.5,200.6 641.2,225.5" fill="none" stroke="#22c4f6" stroke-width="1.6" stroke-linejoin="round" clip-path="url(#aU)"/>
<polyline points="694.9,225.5 698.0,210.7 717.4,207.6" fill="none" stroke="#22c4f6" stroke-width="1.6" stroke-linejoin="round" clip-path="url(#aU)"/>
<g fill="#1446e8" clip-path="url(#aU)"><rect x="573.3" y="95.5" width="5.9" height="5.9"/><rect x="600.9" y="105.2" width="5.9" height="5.9"/><rect x="633.6" y="197.7" width="5.9" height="5.9"/><rect x="695.0" y="207.8" width="5.9" height="5.9"/><rect x="714.5" y="204.7" width="5.9" height="5.9"/></g>
<polyline points="547.1,225.5 558.8,95.7 585.2,150.9 610.9,188.2 626.4,206.9 638.9,225.5" fill="none" stroke="#ff1010" stroke-width="1.6" stroke-linejoin="round" clip-path="url(#aU)"/>
<polyline points="696.4,225.5 701.9,221.6" fill="none" stroke="#ff1010" stroke-width="1.5" stroke-linejoin="round" clip-path="url(#aU)"/>
<g fill="#f47a80" clip-path="url(#aU)"><circle cx="558.8" cy="95.7" r="3.09"/><circle cx="585.2" cy="150.9" r="3.09"/><circle cx="701.9" cy="221.6" r="3.09"/></g>
<polyline points="568.9,225.5 580.1,97.2 606.2,164.1 629.5,172.6 658.3,195.2 684.0,209.2" fill="none" stroke="#ff1010" stroke-width="1.6" stroke-linejoin="round" clip-path="url(#aU)"/>
<g fill="#ff1010" clip-path="url(#aU)"><circle cx="580.1" cy="97.2" r="1.75"/><circle cx="606.2" cy="164.1" r="1.75"/><circle cx="629.5" cy="172.6" r="1.75"/><circle cx="658.3" cy="195.2" r="1.75"/><circle cx="684.0" cy="209.2" r="1.75"/></g>
<polyline points="548.7,225.5 563.4,101.9 610.9,172.6 671.5,213.1 679.3,225.5" fill="none" stroke="#1446e8" stroke-width="1.7" stroke-linejoin="round" clip-path="url(#aU)"/>
<polyline points="550.2,225.5 556.1,126.0 583.7,168.8 604.7,180.4 623.3,207.6 629.5,225.5" fill="none" stroke="#1446e8" stroke-width="1.7" stroke-linejoin="round" clip-path="url(#aU)"/>
<g fill="#1446e8" clip-path="url(#aU)"><circle cx="556.1" cy="126.0" r="1.90"/><circle cx="583.7" cy="168.8" r="1.90"/><circle cx="604.7" cy="180.4" r="1.90"/><circle cx="623.3" cy="207.6" r="1.90"/><circle cx="671.5" cy="213.1" r="1.90"/></g>
<polyline points="565.8,225.5 581.8,138.4 598.4,166.4 691.7,213.1" fill="none" stroke="#1a6f77" stroke-width="1.6" stroke-linejoin="round" clip-path="url(#aU)"/>
<polyline points="586.0,225.5 598.4,166.4" fill="none" stroke="#1a6f77" stroke-width="1.4" stroke-linejoin="round" clip-path="url(#aU)"/>
<g fill="#1a6f77" clip-path="url(#aU)"><polygon points="691.7,209.6 695.0,215.3 688.4,215.3"/></g>
<g fill="#1a6f77" clip-path="url(#aU)"><circle cx="581.8" cy="138.4" r="1.75"/></g>
<polyline points="565.0,225.5 568.1,198.3 618.6,195.7 680.1,218.5" fill="none" stroke="#2a1658" stroke-width="1.7" stroke-linejoin="round" clip-path="url(#aU)"/>
<g fill="#2a1658" clip-path="url(#aU)"><circle cx="568.1" cy="198.3" r="2.00"/><circle cx="618.6" cy="195.7" r="2.00"/><circle cx="680.1" cy="218.5" r="2.00"/></g>
<polyline points="570.4,225.5 575.1,169.5 600.0,188.2 629.5,213.1 670.7,224.0" fill="none" stroke="#a690de" stroke-width="1.4" stroke-linejoin="round" clip-path="url(#aU)"/>
<g fill="#2a1658" clip-path="url(#aU)"><rect x="569.3" y="152.8" width="5.4" height="5.4"/><rect x="572.4" y="166.8" width="5.4" height="5.4"/><rect x="603.5" y="183.2" width="5.4" height="5.4"/><rect x="657.2" y="196.4" width="5.4" height="5.4"/><rect x="629.9" y="219.7" width="5.4" height="5.4"/></g>
<polyline points="568.9,225.5 572.0,155.5 606.2,185.9 632.6,222.4" fill="none" stroke="#2a1658" stroke-width="1.4" stroke-linejoin="round" clip-path="url(#aU)"/>
<polyline points="567.3,225.5 569.7,178.9 592.2,171.1 619.4,214.6 694.9,223.2" fill="none" stroke="#ff5e14" stroke-width="1.6" stroke-linejoin="round" clip-path="url(#aU)"/>
<polyline points="586.8,225.5 592.2,171.1" fill="none" stroke="#ff5e14" stroke-width="1.4" stroke-linejoin="round" clip-path="url(#aU)"/>
<polyline points="572.0,225.5 576.7,194.4 607.8,194.4 651.3,218.5 670.0,224.0" fill="none" stroke="#f9a47c" stroke-width="1.4" stroke-linejoin="round" clip-path="url(#aU)"/>
<g fill="#ff5e14" clip-path="url(#aU)"><polygon points="651.3,221.7 654.6,216.0 648.0,216.0"/><polygon points="569.7,182.0 573.0,176.3 566.4,176.3"/></g>
<polyline points="561.1,225.5 563.4,185.1 591.4,189.4 652.9,213.9 670.0,219.3" fill="none" stroke="#f47a80" stroke-width="1.4" stroke-linejoin="round" clip-path="url(#aU)"/>
<g fill="#ff1010" clip-path="url(#aU)"><polygon points="563.4,181.1 567.1,185.1 563.4,189.1 559.8,185.1"/><polygon points="591.4,185.4 595.1,189.4 591.4,193.5 587.8,189.4"/><polygon points="652.9,209.8 656.5,213.9 652.9,217.9 649.2,213.9"/></g>
<polyline points="573.5,225.5 577.4,189.0 603.9,199.9 617.1,225.5" fill="none" stroke="#62c4ca" stroke-width="1.4" stroke-linejoin="round" clip-path="url(#aU)"/>
<polyline points="607.8,191.3 631.1,189.8" fill="none" stroke="#1a6f77" stroke-width="1.4" stroke-linejoin="round" clip-path="url(#aU)"/>
<g fill="#1a6f77" clip-path="url(#aU)"><rect x="574.5" y="186.0" width="5.9" height="5.9"/><rect x="600.9" y="196.9" width="5.9" height="5.9"/></g>
<g fill="#2a1658" clip-path="url(#aU)"><circle cx="628.7" cy="212.9" r="3.09"/></g>
<g fill="#1446e8" clip-path="url(#aU)"><circle cx="604.4" cy="180.3" r="2.85"/></g>
<g fill="#f47a80" clip-path="url(#aU)"><circle cx="642.4" cy="202.2" r="2.85"/></g>
<polyline points="400.0,382.7 413.6,381.0 440.9,386.9 466.4,384.5 494.8,385.7 521.5,383.9 548.7,381.6" fill="none" stroke="#2a1658" stroke-width="1.5" stroke-linejoin="round" clip-path="url(#aL)"/>
<g fill="#2a1658" clip-path="url(#aL)"><circle cx="413.6" cy="381.0" r="3.09"/><circle cx="440.9" cy="386.9" r="3.09"/><circle cx="494.8" cy="385.7" r="3.09"/><circle cx="521.5" cy="383.9" r="3.09"/><circle cx="548.7" cy="381.6" r="3.09"/></g>
<polyline points="400.0,391.6 429.0,388.7 462.8,391.0 497.2,391.6 516.7,391.0 539.3,391.6" fill="none" stroke="#ff5e14" stroke-width="1.5" stroke-linejoin="round" clip-path="url(#aL)"/>
<g fill="#ff5e14" clip-path="url(#aL)"><polygon points="429.0,392.3 432.9,385.7 425.2,385.7"/><polygon points="462.8,394.7 466.7,388.1 459.0,388.1"/><polygon points="497.2,395.3 501.0,388.7 493.3,388.7"/><polygon points="516.7,394.7 520.6,388.1 512.9,388.1"/><polygon points="539.3,395.3 543.1,388.7 535.4,388.7"/></g>
<g fill="#1446e8" clip-path="url(#aL)"><circle cx="425.5" cy="374.4" r="2.85"/><circle cx="438.5" cy="367.9" r="2.85"/><circle cx="452.1" cy="366.1" r="2.85"/><circle cx="494.8" cy="375.6" r="2.85"/><circle cx="504.9" cy="371.5" r="2.85"/></g>
<g fill="#1a6f77" clip-path="url(#aL)"><rect x="406.0" y="376.9" width="5.9" height="5.9"/><rect x="432.6" y="375.1" width="5.9" height="5.9"/><rect x="459.3" y="374.5" width="5.9" height="5.9"/></g>
<g fill="#ff1010" clip-path="url(#aL)"><polygon points="410.7,384.6 414.3,388.7 410.7,392.7 407.0,388.7"/><polygon points="453.3,376.3 457.0,380.4 453.3,384.4 449.7,380.4"/></g>
<polyline points="1160.3,225.8 1161.6,208.4 1188.4,219.0 1205.4,224.9" fill="none" stroke="#22c4f6" stroke-width="1.5" stroke-linejoin="round" clip-path="url(#bU)"/>
<g fill="#1446e8" clip-path="url(#bU)"><rect x="1158.8" y="205.6" width="5.7" height="5.7"/><rect x="1185.5" y="216.1" width="5.7" height="5.7"/></g>
<polyline points="1175.6,225.8 1179.5,202.8 1202.8,222.4 1205.4,224.9" fill="none" stroke="#2a1658" stroke-width="1.8" stroke-linejoin="round" clip-path="url(#bU)"/>
<polyline points="1177.3,222.4 1168.8,219.3 1161.1,222.4" fill="none" stroke="#2a1658" stroke-width="1.2" stroke-linejoin="round" clip-path="url(#bU)"/>
<g fill="#ff5e14" clip-path="url(#bU)"><polygon points="1181.6,205.9 1184.3,201.2 1178.8,201.2"/></g>
<polyline points="1153.4,223.2 1179.8,210.1 1190.1,215.6 1206.6,219.3 1219.0,222.4" fill="none" stroke="#62c4ca" stroke-width="1.3" stroke-linejoin="round" clip-path="url(#bU)"/>
<g fill="#1a6f77" clip-path="url(#bU)"><polygon points="1179.8,207.2 1182.9,212.4 1176.8,212.4"/><polygon points="1206.6,216.4 1209.6,221.6 1203.6,221.6"/></g>
<polyline points="1161.1,224.1 1179.8,210.1" fill="none" stroke="#1a6f77" stroke-width="1.2" stroke-linejoin="round" clip-path="url(#bU)"/>
<polyline points="1158.6,223.6 1195.2,222.7 1212.2,221.0 1242.9,223.7" fill="none" stroke="#1446e8" stroke-width="1.6" stroke-linejoin="round" clip-path="url(#bU)"/>
<g fill="#1446e8" clip-path="url(#bU)"><circle cx="1212.2" cy="221.0" r="2.38"/></g>
<g fill="#a690de" clip-path="url(#bU)"><circle cx="1168.8" cy="219.3" r="2.00"/></g>
<g fill="#ff1010" clip-path="url(#bU)"><polygon points="1199.4,220.9 1202.3,224.1 1199.4,227.2 1196.6,224.1"/></g>
<polyline points="1178.1,224.1 1199.4,224.1" fill="none" stroke="#ff1010" stroke-width="1.2" stroke-linejoin="round" clip-path="url(#bU)"/>
<polyline points="1168.8,219.3 1181.6,222.4 1198.6,224.1" fill="none" stroke="#a690de" stroke-width="1.2" stroke-linejoin="round" clip-path="url(#bU)"/>
<polyline points="1144.1,244.5 1127.0,392.7" fill="none" stroke="#62c4ca" stroke-width="1.4" stroke-linejoin="round" clip-path="url(#bL)"/>
<polyline points="1150.9,244.5 1138.1,394.4" fill="none" stroke="#1446e8" stroke-width="1.8" stroke-linejoin="round" clip-path="url(#bL)"/>
<polyline points="1156.8,244.5 1139.8,394.4" fill="none" stroke="#22c4f6" stroke-width="1.5" stroke-linejoin="round" clip-path="url(#bL)"/>
<polyline points="1162.8,244.5 1141.5,393.6" fill="none" stroke="#f47a80" stroke-width="1.4" stroke-linejoin="round" clip-path="url(#bL)"/>
<polyline points="1164.5,244.5 1142.4,394.4" fill="none" stroke="#2a1658" stroke-width="1.7" stroke-linejoin="round" clip-path="url(#bL)"/>
<polyline points="1167.9,244.5 1128.7,393.6" fill="none" stroke="#1a6f77" stroke-width="1.6" stroke-linejoin="round" clip-path="url(#bL)"/>
<polyline points="1169.6,244.5 1154.6,383.4" fill="none" stroke="#ff1010" stroke-width="1.6" stroke-linejoin="round" clip-path="url(#bL)"/>
<polyline points="1172.2,244.5 1144.1,393.6" fill="none" stroke="#2a1658" stroke-width="1.7" stroke-linejoin="round" clip-path="url(#bL)"/>
<polyline points="1161.1,244.5 1140.7,393.6" fill="none" stroke="#f9a47c" stroke-width="1.3" stroke-linejoin="round" clip-path="url(#bL)"/>
<polyline points="1152.6,244.5 1135.6,393.6" fill="none" stroke="#1446e8" stroke-width="1.4" stroke-linejoin="round" clip-path="url(#bL)"/>
<polyline points="1185.0,244.5 1234.4,364.6 1257.4,369.7" fill="none" stroke="#ff1010" stroke-width="1.6" stroke-linejoin="round" clip-path="url(#bL)"/>
<g fill="#ff1010" clip-path="url(#bL)"><circle cx="1234.4" cy="364.6" r="1.75"/><circle cx="1257.4" cy="369.7" r="1.75"/></g>
<polyline points="1189.2,244.5 1243.7,379.9" fill="none" stroke="#1a6f77" stroke-width="1.6" stroke-linejoin="round" clip-path="url(#bL)"/>
<g fill="#1a6f77" clip-path="url(#bL)"><polygon points="1243.7,377.1 1246.2,381.4 1241.3,381.4"/></g>
<polyline points="1201.1,244.5 1214.3,275.2 1241.2,313.5" fill="none" stroke="#22c4f6" stroke-width="1.6" stroke-linejoin="round" clip-path="url(#bL)"/>
<g fill="#1446e8" clip-path="url(#bL)"><rect x="1211.4" y="272.3" width="5.7" height="5.7"/><rect x="1238.3" y="310.7" width="5.7" height="5.7"/></g>
<polyline points="1203.7,244.5 1222.4,303.3 1248.8,355.2" fill="none" stroke="#2a1658" stroke-width="1.7" stroke-linejoin="round" clip-path="url(#bL)"/>
<g fill="#a690de" clip-path="url(#bL)"><circle cx="1222.4" cy="303.3" r="2.25"/><circle cx="1248.8" cy="355.2" r="2.25"/></g>
<polyline points="1214.8,244.5 1287.2,362.1" fill="none" stroke="#f47a80" stroke-width="1.5" stroke-linejoin="round" clip-path="url(#bL)"/>
<g fill="#ff1010" clip-path="url(#bL)"><polygon points="1287.2,358.0 1290.8,362.1 1287.2,366.1 1283.5,362.1"/></g>
<polyline points="1257.4,244.5 1288.0,288.0" fill="none" stroke="#f9a47c" stroke-width="1.4" stroke-linejoin="round" clip-path="url(#bL)"/>
<polyline points="1268.4,244.5 1287.2,290.5" fill="none" stroke="#2a1658" stroke-width="1.7" stroke-linejoin="round" clip-path="url(#bL)"/>
<polyline points="1276.1,244.5 1287.2,290.5 1298.2,342.5" fill="none" stroke="#1446e8" stroke-width="1.6" stroke-linejoin="round" clip-path="url(#bL)"/>
<g fill="#ff5e14" clip-path="url(#bL)"><polygon points="1288.5,291.6 1291.8,285.9 1285.2,285.9"/></g>
<g fill="#2a1658" clip-path="url(#bL)"><circle cx="1287.2" cy="290.5" r="2.00"/></g>
<g fill="#1446e8" clip-path="url(#bL)"><circle cx="1298.2" cy="342.5" r="2.00"/></g>
<polyline points="1125.3,392.7 1150.0,318.6 1177.3,318.1 1202.8,268.7" fill="none" stroke="#a690de" stroke-width="1.4" stroke-linejoin="round" clip-path="url(#bL)"/>
<g fill="#2a1658" clip-path="url(#bL)"><circle cx="1150.0" cy="318.6" r="3.09"/><circle cx="1177.3" cy="318.1" r="3.09"/><circle cx="1202.8" cy="268.7" r="3.09"/></g>
<polyline points="1139.8,394.4 1153.4,383.4 1163.7,369.7 1196.9,299.9 1259.1,359.5" fill="none" stroke="#ff5e14" stroke-width="1.6" stroke-linejoin="round" clip-path="url(#bL)"/>
<g fill="#ff5e14" clip-path="url(#bL)"><polygon points="1163.7,372.1 1166.1,367.8 1161.2,367.8"/><polygon points="1196.9,302.2 1199.4,298.0 1194.4,298.0"/><polygon points="1259.1,361.9 1261.5,357.6 1256.6,357.6"/></g>
<polyline points="1122.8,394.4 1154.3,383.4" fill="none" stroke="#ff1010" stroke-width="1.6" stroke-linejoin="round" clip-path="url(#bL)"/>
<g fill="#ff1010" clip-path="url(#bL)"><circle cx="1154.3" cy="383.4" r="1.75"/></g>
<polyline points="906.4,395.2 936.2,395.2" fill="none" stroke="#ff1010" stroke-width="1.8" stroke-linejoin="round" clip-path="url(#bL)"/>
<polyline points="936.2,395.2 1127.0,395.0 1140.5,395.8" fill="none" stroke="#2a1658" stroke-width="2.0" stroke-linejoin="round" clip-path="url(#bL)"/>
<polyline points="947.8,394.8 1138.6,395.4" fill="none" stroke="#1446e8" stroke-width="1.4" stroke-linejoin="round" clip-path="url(#bL)"/>
<polyline points="947.8,394.3 1121.2,394.8" fill="none" stroke="#ff5e14" stroke-width="1.2" stroke-linejoin="round" clip-path="url(#bL)"/>
<polyline points="957.4,395.8 1128.9,395.4" fill="none" stroke="#1a6f77" stroke-width="1.2" stroke-linejoin="round" clip-path="url(#bL)"/>
<g fill="#1446e8" clip-path="url(#bL)"><rect x="981.7" y="392.3" width="5.4" height="5.4"/><rect x="996.2" y="392.3" width="5.4" height="5.4"/><rect x="1025.1" y="392.3" width="5.4" height="5.4"/><rect x="1076.1" y="392.3" width="5.4" height="5.4"/><rect x="1103.1" y="392.3" width="5.4" height="5.4"/></g>
<g fill="#2a1658" clip-path="url(#bL)"><circle cx="988.3" cy="395.0" r="2.85"/><circle cx="1015.2" cy="395.0" r="2.85"/><circle cx="1045.1" cy="395.0" r="2.85"/><circle cx="1073.0" cy="395.0" r="2.85"/><circle cx="1095.2" cy="395.0" r="2.85"/><circle cx="1121.2" cy="395.0" r="2.85"/></g>
<g fill="#1a6f77" clip-path="url(#bL)"><polygon points="964.2,391.9 967.5,397.6 960.9,397.6"/><polygon points="993.1,391.9 996.4,397.6 989.8,397.6"/><polygon points="1021.0,391.9 1024.3,397.6 1017.7,397.6"/><polygon points="1071.1,391.9 1074.4,397.6 1067.8,397.6"/></g>
<g fill="#ff5e14" clip-path="url(#bL)"><polygon points="978.6,398.2 981.9,392.5 975.3,392.5"/><polygon points="1022.9,398.2 1026.2,392.5 1019.6,392.5"/></g>
<g fill="#a690de" clip-path="url(#bL)"><circle cx="953.6" cy="395.0" r="2.00"/><circle cx="1005.6" cy="395.0" r="2.00"/><circle cx="1036.4" cy="395.0" r="2.00"/><circle cx="1055.7" cy="395.0" r="2.00"/><circle cx="1084.6" cy="395.0" r="2.00"/><circle cx="1113.5" cy="395.0" r="2.00"/></g>
<g fill="#1446e8" clip-path="url(#bL)"><rect x="1137.8" y="393.9" width="5.4" height="5.4"/></g>
<g fill="#2a1658" clip-path="url(#bU)"><circle cx="1179.6" cy="203.2" r="2.85"/></g>
<g fill="#ff5e14" clip-path="url(#bU)"><polygon points="1182.5,206.1 1185.2,201.4 1179.8,201.4"/></g>
<polyline points="548.8,913.0 574.9,645.6 602.9,640.7 635.6,751.7 655.8,799.0 697.2,787.2 715.9,786.2 736.6,758.6" fill="none" stroke="#22c4f6" stroke-width="1.6" stroke-linejoin="round"/>
<g fill="#1446e8"><rect x="572.0" y="642.7" width="5.9" height="5.9"/><rect x="600.0" y="637.8" width="5.9" height="5.9"/><rect x="632.7" y="748.8" width="5.9" height="5.9"/><rect x="652.8" y="796.1" width="5.9" height="5.9"/><rect x="694.2" y="784.3" width="5.9" height="5.9"/><rect x="713.0" y="783.3" width="5.9" height="5.9"/><rect x="733.7" y="755.7" width="5.9" height="5.9"/></g>
<polyline points="558.8,932.5 560.7,689.0 602.9,729.8" fill="none" stroke="#22c4f6" stroke-width="1.6" stroke-linejoin="round"/>
<g fill="#1446e8"><circle cx="560.7" cy="689.0" r="3.09"/><circle cx="602.9" cy="729.8" r="3.09"/></g>
<polyline points="537.7,926.2 569.0,706.2 591.3,699.9 671.1,821.1 695.2,831.9" fill="none" stroke="#ff5e14" stroke-width="1.6" stroke-linejoin="round"/>
<g fill="#ff5e14"><polygon points="569.0,708.5 571.5,704.2 566.5,704.2"/><polygon points="591.3,702.2 593.8,697.9 588.8,697.9"/><polygon points="671.1,823.5 673.6,819.2 668.7,819.2"/><polygon points="695.2,834.3 697.7,830.0 692.7,830.0"/></g>
<polyline points="533.1,926.2 578.9,718.0 606.5,745.2 629.1,772.8 657.7,737.9 682.4,824.1 716.9,787.6" fill="none" stroke="#ff1010" stroke-width="1.6" stroke-linejoin="round"/>
<g fill="#ff1010"><circle cx="578.9" cy="718.0" r="1.75"/><circle cx="606.5" cy="745.2" r="1.75"/><circle cx="629.1" cy="772.8" r="1.75"/><circle cx="657.7" cy="737.9" r="1.75"/><circle cx="682.4" cy="824.1" r="1.75"/><circle cx="716.9" cy="787.6" r="1.75"/></g>
<polyline points="519.9,919.7 545.3,894.6 571.0,742.6 605.1,788.6 631.7,807.3 658.7,821.5 685.3,835.9" fill="none" stroke="#a690de" stroke-width="1.5" stroke-linejoin="round"/>
<g fill="#2a1658"><rect x="568.1" y="739.7" width="5.9" height="5.9"/><rect x="602.2" y="785.6" width="5.9" height="5.9"/><rect x="628.8" y="804.4" width="5.9" height="5.9"/><rect x="655.8" y="818.6" width="5.9" height="5.9"/><rect x="682.4" y="833.0" width="5.9" height="5.9"/></g>
<polyline points="552.2,931.5 575.9,764.9 602.5,826.0" fill="none" stroke="#62c4ca" stroke-width="1.5" stroke-linejoin="round"/>
<g fill="#1a6f77"><rect x="573.0" y="762.0" width="5.9" height="5.9"/><rect x="599.6" y="823.1" width="5.9" height="5.9"/></g>
<polyline points="512.2,920.9 558.8,812.0" fill="none" stroke="#f47a80" stroke-width="1.4" stroke-linejoin="round"/>
<g fill="#f47a80"><circle cx="558.8" cy="812.0" r="2.00"/></g>
<polyline points="558.8,812.0 584.8,771.8 611.4,826.0 640.0,875.9 667.2,876.7 700.7,905.3" fill="none" stroke="#ff1010" stroke-width="1.6" stroke-linejoin="round"/>
<g fill="#f47a80"><circle cx="584.8" cy="771.8" r="3.09"/><circle cx="611.4" cy="826.0" r="3.09"/><circle cx="640.0" cy="875.9" r="3.09"/><circle cx="667.2" cy="876.7" r="3.09"/><circle cx="700.7" cy="905.3" r="3.09"/></g>
<polyline points="551.7,933.5 598.0,782.1 657.7,737.7 679.0,721.1 705.4,857.0" fill="none" stroke="#1a6f77" stroke-width="1.6" stroke-linejoin="round"/>
<g fill="#62c4ca"><circle cx="598.0" cy="782.1" r="1.75"/><circle cx="679.0" cy="721.1" r="1.75"/><circle cx="705.4" cy="857.0" r="1.75"/></g>
<polyline points="552.2,931.5 580.8,783.6 606.5,816.2 629.7,793.5 690.3,847.7" fill="none" stroke="#1a6f77" stroke-width="1.6" stroke-linejoin="round"/>
<g fill="#1a6f77"><polygon points="690.3,844.8 692.7,849.0 687.8,849.0"/></g>
<polyline points="542.0,929.5 567.0,802.4 617.7,864.1 679.0,859.6" fill="none" stroke="#2a1658" stroke-width="1.6" stroke-linejoin="round"/>
<g fill="#2a1658"><circle cx="567.0" cy="802.4" r="2.00"/><circle cx="617.7" cy="864.1" r="2.00"/><circle cx="679.0" cy="859.6" r="2.00"/></g>
<polyline points="549.3,932.5 573.9,815.2 628.2,860.5" fill="none" stroke="#2a1658" stroke-width="1.3" stroke-linejoin="round"/>
<g fill="#2a1658"><circle cx="573.9" cy="815.2" r="2.85"/></g>
<g fill="#2a1658"><rect x="625.5" y="857.8" width="5.4" height="5.4"/></g>
<polyline points="503.0,917.7 530.2,765.9 561.1,765.9 610.4,819.1 671.5,889.7 717.9,898.0" fill="none" stroke="#1446e8" stroke-width="1.6" stroke-linejoin="round"/>
<g fill="#1446e8"><circle cx="503.0" cy="917.7" r="1.75"/><circle cx="530.2" cy="765.9" r="1.75"/><circle cx="610.4" cy="819.1" r="1.75"/><circle cx="671.5" cy="889.7" r="1.75"/><circle cx="717.9" cy="898.0" r="1.75"/></g>
<polyline points="551.3,932.5 555.2,835.9 613.4,829.0 654.8,845.7 697.2,877.9" fill="none" stroke="#2a1658" stroke-width="1.6" stroke-linejoin="round"/>
<g fill="#a690de"><circle cx="654.8" cy="845.7" r="2.00"/><circle cx="697.2" cy="877.9" r="2.00"/></g>
<polyline points="551.7,932.5 555.2,834.9 582.8,841.8 622.2,855.6" fill="none" stroke="#1446e8" stroke-width="1.6" stroke-linejoin="round"/>
<g fill="#1446e8"><circle cx="555.2" cy="834.9" r="2.00"/><circle cx="582.8" cy="841.8" r="2.00"/><circle cx="622.2" cy="855.6" r="2.00"/></g>
<polyline points="552.2,932.5 568.0,844.8 596.2,849.7" fill="none" stroke="#62c4ca" stroke-width="1.5" stroke-linejoin="round"/>
<g fill="#1a6f77"><polygon points="568.0,841.1 571.9,847.7 564.2,847.7"/><polygon points="596.2,846.0 600.1,852.7 592.4,852.7"/></g>
<polyline points="550.3,932.5 561.1,858.2 590.3,860.1 610.4,841.8 650.8,815.2" fill="none" stroke="#f47a80" stroke-width="1.5" stroke-linejoin="round"/>
<g fill="#ff1010"><polygon points="561.1,854.1 564.8,858.2 561.1,862.2 557.4,858.2"/><polygon points="590.3,856.1 594.0,860.1 590.3,864.2 586.6,860.1"/><polygon points="610.4,837.8 614.1,841.8 610.4,845.8 606.7,841.8"/><polygon points="650.8,811.2 654.5,815.2 650.8,819.2 647.2,815.2"/></g>
<polyline points="553.2,933.5 596.2,857.6 651.4,808.3 677.4,838.8" fill="none" stroke="#f9a47c" stroke-width="1.5" stroke-linejoin="round"/>
<g fill="#ff5e14"><polygon points="596.2,861.3 600.1,854.6 592.4,854.6"/><polygon points="651.4,812.0 655.3,805.3 647.6,805.3"/><polygon points="677.4,842.5 681.3,835.9 673.6,835.9"/></g>
<polyline points="553.2,933.5 571.0,876.3 602.9,876.3 636.0,905.3 663.2,909.8 710.6,902.3" fill="none" stroke="#ff5e14" stroke-width="1.6" stroke-linejoin="round"/>
<g fill="#f9a47c"><circle cx="571.0" cy="876.3" r="2.25"/><circle cx="602.9" cy="876.3" r="2.25"/><circle cx="636.0" cy="905.3" r="2.25"/><circle cx="663.2" cy="909.8" r="2.25"/><circle cx="710.6" cy="902.3" r="2.25"/></g>
<g fill="#2a1658"><rect x="542.6" y="892.3" width="5.4" height="5.4"/></g>
<polyline points="547.3,932.5 559.1,817.2" fill="none" stroke="#ff1010" stroke-width="1.4" stroke-linejoin="round"/>
<polyline points="549.3,932.5 557.2,846.7" fill="none" stroke="#2438c0" stroke-width="1.4" stroke-linejoin="round"/>
<polyline points="550.3,932.5 565.1,876.3" fill="none" stroke="#ff1010" stroke-width="1.4" stroke-linejoin="round"/>
<polyline points="548.3,932.5 557.2,915.7" fill="none" stroke="#1a6f77" stroke-width="1.4" stroke-linejoin="round"/>
<polyline points="549.3,932.5 553.2,876.3" fill="none" stroke="#2a1658" stroke-width="1.4" stroke-linejoin="round"/>
<polyline points="272.9,931.1 299.6,928.9 327.8,929.6 392.7,924.4 461.1,927.3 504.4,928.2 548.9,928.9" fill="none" stroke="#62c4ca" stroke-width="1.5" stroke-linejoin="round"/>
<g fill="#1a6f77"><polygon points="272.9,927.4 276.7,934.1 269.0,934.1"/><polygon points="299.6,925.2 303.4,931.9 295.7,931.9"/><polygon points="327.8,925.9 331.6,932.5 323.9,932.5"/><polygon points="392.7,920.8 396.5,927.4 388.8,927.4"/><polygon points="461.1,923.7 465.0,930.3 457.3,930.3"/></g>
<polyline points="414.9,921.1 446.2,924.0 466.7,914.9 521.1,922.2 543.3,927.3" fill="none" stroke="#1a6f77" stroke-width="1.6" stroke-linejoin="round"/>
<g fill="#1a6f77"><circle cx="414.9" cy="921.1" r="1.75"/><circle cx="446.2" cy="924.0" r="1.75"/><circle cx="466.7" cy="914.9" r="1.75"/></g>
<polyline points="494.4,897.1 521.1,922.2 548.9,913.3" fill="none" stroke="#22c4f6" stroke-width="1.6" stroke-linejoin="round"/>
<g fill="#1446e8"><rect x="491.5" y="894.2" width="5.9" height="5.9"/><rect x="518.2" y="919.3" width="5.9" height="5.9"/><rect x="546.0" y="910.4" width="5.9" height="5.9"/></g>
<polyline points="319.6,931.1 346.2,931.1 393.3,930.0 437.8,930.4 493.3,931.1 548.9,932.2" fill="none" stroke="#a690de" stroke-width="1.4" stroke-linejoin="round"/>
<g fill="#2a1658"><circle cx="319.6" cy="931.1" r="3.09"/><circle cx="346.2" cy="931.1" r="3.09"/><circle cx="385.6" cy="930.4" r="3.09"/><circle cx="440.0" cy="930.4" r="3.09"/><circle cx="493.3" cy="931.1" r="3.09"/><circle cx="548.9" cy="932.2" r="3.09"/></g>
<polyline points="348.9,934.0 415.6,934.0 482.2,933.3 548.9,932.7" fill="none" stroke="#ff5e14" stroke-width="1.6" stroke-linejoin="round"/>
<polyline points="353.3,931.8 415.6,931.1 495.6,917.3 542.2,925.6" fill="none" stroke="#f9a47c" stroke-width="1.3" stroke-linejoin="round"/>
<g fill="#ff5e14"><rect x="364.9" y="923.1" width="5.0" height="5.0"/><rect x="426.4" y="926.4" width="5.0" height="5.0"/><rect x="493.1" y="914.9" width="5.0" height="5.0"/></g>
<polyline points="346.7,930.4 415.6,930.4 482.2,930.4 555.6,930.4" fill="none" stroke="#1446e8" stroke-width="1.7" stroke-linejoin="round"/>
<g fill="#1446e8"><circle cx="346.7" cy="930.4" r="2.85"/><circle cx="393.3" cy="930.4" r="2.85"/></g>
<polyline points="353.3,933.3 415.6,932.2 482.2,932.7 548.9,931.1" fill="none" stroke="#ff1010" stroke-width="1.5" stroke-linejoin="round"/>
<g fill="#ff1010"><polygon points="383.3,932.7 386.0,935.6 383.3,938.4 380.7,935.6"/><polygon points="451.1,933.3 453.7,936.2 451.1,939.1 448.5,936.2"/></g>
<polyline points="362.2,931.1 548.9,931.8" fill="none" stroke="#2a1658" stroke-width="1.6" stroke-linejoin="round"/>
<polyline points="415.6,927.3 482.2,928.2 542.2,928.2" fill="none" stroke="#62c4ca" stroke-width="1.3" stroke-linejoin="round"/>
<g fill="#1a6f77"><rect x="432.0" y="922.0" width="5.0" height="5.0"/></g>
<polyline points="348.9,934.7 555.6,934.2" fill="none" stroke="#2a1658" stroke-width="1.8" stroke-linejoin="round"/>
<polyline points="503.3,917.8 512.2,870.0" fill="none" stroke="#1446e8" stroke-width="1.6" stroke-linejoin="round"/>
<polyline points="1142.7,931.6 1151.6,907.6 1179.6,776.9 1206.7,892.4 1233.7,886.2 1260.9,904.4 1287.6,912.9" fill="none" stroke="#1446e8" stroke-width="1.6" stroke-linejoin="round"/>
<g fill="#1446e8"><rect x="1177.8" y="775.0" width="3.8" height="3.8"/><rect x="1204.8" y="890.6" width="3.8" height="3.8"/><rect x="1231.8" y="884.3" width="3.8" height="3.8"/><rect x="1259.0" y="902.5" width="3.8" height="3.8"/></g>
<polyline points="1140.9,929.8 1152.4,904.0 1179.1,850.7 1206.7,904.4" fill="none" stroke="#f9a47c" stroke-width="1.5" stroke-linejoin="round"/>
<g fill="#ff5e14"><polygon points="1179.1,854.3 1183.0,847.7 1175.3,847.7"/></g>
<g fill="#ff5e14"><circle cx="1152.4" cy="904.0" r="3.09"/><circle cx="1206.7" cy="904.4" r="3.09"/></g>
<polyline points="1142.7,930.7 1169.3,880.0 1206.7,904.0 1223.6,917.9 1247.6,913.8 1287.6,912.9" fill="none" stroke="#1446e8" stroke-width="1.6" stroke-linejoin="round"/>
<g fill="#1446e8"><circle cx="1169.3" cy="880.0" r="2.00"/><circle cx="1287.6" cy="912.9" r="2.00"/></g>
<g fill="#1446e8"><circle cx="1287.6" cy="912.9" r="2.85"/></g>
<polyline points="1142.7,931.6 1180.9,887.6 1206.7,904.4 1241.3,901.9 1288.1,910.8" fill="none" stroke="#f47a80" stroke-width="1.5" stroke-linejoin="round"/>
<g fill="#ff1010"><polygon points="1180.9,883.6 1184.6,887.6 1180.9,891.7 1177.2,887.6"/><polygon points="1241.3,897.8 1245.0,901.9 1241.3,905.9 1237.7,901.9"/><polygon points="1288.1,906.7 1291.8,910.8 1288.1,914.8 1284.4,910.8"/></g>
<polyline points="1142.7,933.3 1154.2,925.3 1176.1,907.2 1235.1,907.6 1257.3,915.6" fill="none" stroke="#a690de" stroke-width="1.5" stroke-linejoin="round"/>
<g fill="#2a1658"><circle cx="1154.2" cy="925.3" r="3.09"/><circle cx="1176.1" cy="907.2" r="3.09"/><circle cx="1235.1" cy="907.6" r="3.09"/><circle cx="1257.3" cy="915.6" r="3.09"/></g>
<polyline points="1142.7,931.6 1161.3,915.6 1188.9,916.4 1213.8,913.2 1242.2,913.2 1272.4,904.4 1298.8,889.4 1320.1,912.5" fill="none" stroke="#1a6f77" stroke-width="1.6" stroke-linejoin="round"/>
<g fill="#1a6f77"><circle cx="1298.8" cy="889.4" r="1.75"/><circle cx="1320.1" cy="912.5" r="1.75"/></g>
<polyline points="1142.7,931.6 1161.3,915.6 1188.9,917.3 1241.3,917.3 1300.9,927.1" fill="none" stroke="#62c4ca" stroke-width="1.5" stroke-linejoin="round"/>
<g fill="#1a6f77"><polygon points="1161.3,911.9 1165.2,918.5 1157.5,918.5"/><polygon points="1188.9,913.7 1192.7,920.3 1185.0,920.3"/><polygon points="1241.3,913.7 1245.2,920.3 1237.5,920.3"/><polygon points="1300.9,923.4 1304.7,930.1 1297.0,930.1"/></g>
<polyline points="1126.7,930.7 1151.6,908.4 1177.3,917.3 1203.1,912.5 1224.4,909.0" fill="none" stroke="#22c4f6" stroke-width="1.6" stroke-linejoin="round"/>
<g fill="#1446e8"><rect x="1148.6" y="904.6" width="5.9" height="5.9"/><rect x="1174.4" y="914.4" width="5.9" height="5.9"/><rect x="1200.2" y="909.6" width="5.9" height="5.9"/><rect x="1221.5" y="906.1" width="5.9" height="5.9"/></g>
<polyline points="1142.7,932.4 1161.3,918.2 1180.0,910.8 1213.8,918.2 1244.0,928.5 1293.8,928.9" fill="none" stroke="#ff5e14" stroke-width="1.6" stroke-linejoin="round"/>
<g fill="#ff5e14"><circle cx="1180.0" cy="910.8" r="1.75"/><circle cx="1244.0" cy="928.5" r="1.75"/><circle cx="1293.8" cy="928.9" r="1.75"/></g>
<polyline points="1142.7,935.1 1170.2,923.6 1196.9,917.3 1224.4,920.0 1260.9,928.5 1287.6,932.8" fill="none" stroke="#2a1658" stroke-width="1.6" stroke-linejoin="round"/>
<g fill="#a690de"><circle cx="1170.2" cy="923.6" r="2.25"/><circle cx="1287.6" cy="932.8" r="2.25"/></g>
<polyline points="1142.7,935.1 1164.0,932.4 1196.9,922.1 1218.2,924.4 1260.0,928.0" fill="none" stroke="#ff1010" stroke-width="1.6" stroke-linejoin="round"/>
<g fill="#ff1010"><circle cx="1164.0" cy="932.4" r="1.75"/><circle cx="1196.9" cy="922.1" r="1.75"/></g>
<polyline points="1100.0,924.4 1115.6,920.0 1132.0,928.0 1142.7,931.6" fill="none" stroke="#1446e8" stroke-width="1.6" stroke-linejoin="round"/>
<g fill="#1446e8"><circle cx="1115.6" cy="920.0" r="1.75"/></g>
<polyline points="907.0,935.0 938.0,934.4 1020.0,934.4 1140.0,934.0" fill="none" stroke="#a690de" stroke-width="1.5" stroke-linejoin="round"/>
<polyline points="907.0,935.2 1000.0,935.2 1140.0,934.8" fill="none" stroke="#2a1658" stroke-width="2.0" stroke-linejoin="round"/>
<polyline points="938.0,934.0 988.0,930.4 1046.0,931.6 1072.0,931.0 1080.0,930.0 1115.6,920.0 1128.0,928.0 1140.0,932.0" fill="none" stroke="#1446e8" stroke-width="1.7" stroke-linejoin="round"/>
<polyline points="988.0,931.6 1020.0,932.0 1072.0,931.6 1110.0,931.6 1128.0,930.0 1150.0,912.0" fill="none" stroke="#22c4f6" stroke-width="1.5" stroke-linejoin="round"/>
<polyline points="940.0,934.4 1020.0,934.0 1080.0,934.0 1120.0,933.0 1150.0,926.0" fill="none" stroke="#ff5e14" stroke-width="1.5" stroke-linejoin="round"/>
<polyline points="940.0,935.0 1020.0,934.4 1150.0,934.4" fill="none" stroke="#ff1010" stroke-width="1.4" stroke-linejoin="round"/>
<polyline points="980.0,934.0 1040.0,933.0 1080.0,933.0 1140.0,933.0" fill="none" stroke="#62c4ca" stroke-width="1.3" stroke-linejoin="round"/>
<polyline points="980.0,935.6 1060.0,935.0 1140.0,934.0" fill="none" stroke="#1a6f77" stroke-width="1.3" stroke-linejoin="round"/>
<g fill="#1446e8"><rect x="985.1" y="926.7" width="5.9" height="5.9"/><rect x="1043.1" y="928.1" width="5.9" height="5.9"/><rect x="1071.1" y="927.5" width="5.9" height="5.9"/><rect x="1091.1" y="929.1" width="5.9" height="5.9"/></g>
<g fill="#2a1658"><circle cx="907.0" cy="935.0" r="3.09"/><circle cx="954.0" cy="935.0" r="3.09"/><circle cx="988.0" cy="935.0" r="3.09"/><circle cx="1014.0" cy="935.0" r="3.09"/><circle cx="1068.0" cy="935.0" r="3.09"/><circle cx="1122.0" cy="935.0" r="3.09"/></g>
<g fill="#1446e8"><circle cx="938.0" cy="934.4" r="2.38"/><circle cx="992.0" cy="933.0" r="2.38"/><circle cx="1072.0" cy="933.6" r="2.38"/><circle cx="1100.0" cy="934.4" r="2.38"/></g>
<g fill="#ff5e14"><polygon points="964.0,937.9 967.0,932.7 961.0,932.7"/><polygon points="993.0,938.9 996.0,933.7 990.0,933.7"/><polygon points="1020.0,937.3 1023.0,932.1 1017.0,932.1"/><polygon points="1072.0,938.9 1075.0,933.7 1069.0,933.7"/></g>
<g fill="#ff1010"><polygon points="979.0,932.4 981.9,935.6 979.0,938.8 976.1,935.6"/><polygon points="1020.0,932.4 1022.9,935.6 1020.0,938.8 1017.1,935.6"/><polygon points="1046.0,932.4 1048.9,935.6 1046.0,938.8 1043.1,935.6"/></g>
<g fill="#1a6f77"><polygon points="985.0,933.4 987.8,938.1 982.2,938.1"/><polygon points="1000.0,933.4 1002.8,938.1 997.2,938.1"/><polygon points="1106.0,933.4 1108.8,938.1 1103.2,938.1"/></g>
<g fill="#1446e8"><circle cx="1115.6" cy="920.0" r="2.00"/></g>
<polyline points="551.3,1255.0 558.2,1193.0 585.1,1216.2 614.1,1255.0" fill="none" stroke="#ff1010" stroke-width="1.6" stroke-linejoin="round" clip-path="url(#eU)"/>
<g fill="#f47a80" clip-path="url(#eU)"><circle cx="558.2" cy="1193.0" r="2.99"/><circle cx="585.1" cy="1216.2" r="2.99"/></g>
<polyline points="569.3,1255.0 571.7,1239.5 597.8,1251.7" fill="none" stroke="#a690de" stroke-width="1.4" stroke-linejoin="round" clip-path="url(#eU)"/>
<g fill="#2a1658" clip-path="url(#eU)"><rect x="568.9" y="1236.7" width="5.7" height="5.7"/></g>
<polyline points="575.3,1255.0 576.6,1241.9 577.9,1255.0" fill="none" stroke="#62c4ca" stroke-width="1.3" stroke-linejoin="round" clip-path="url(#eU)"/>
<g fill="#1a6f77" clip-path="url(#eU)"><rect x="574.1" y="1239.5" width="5.0" height="5.0"/></g>
<polyline points="531.0,1469.0 550.3,1270.0" fill="none" stroke="#ff1010" stroke-width="1.6" stroke-linejoin="round" clip-path="url(#eL)"/>
<polyline points="676.0,1271.3 701.3,1313.6" fill="none" stroke="#ff1010" stroke-width="1.6" stroke-linejoin="round" clip-path="url(#eL)"/>
<g fill="#f47a80" clip-path="url(#eL)"><circle cx="701.3" cy="1313.6" r="2.99"/></g>
<polyline points="614.1,1271.3 632.0,1300.6 658.9,1329.6 685.8,1377.7" fill="none" stroke="#a690de" stroke-width="1.5" stroke-linejoin="round" clip-path="url(#eL)"/>
<g fill="#2a1658" clip-path="url(#eL)"><rect x="629.2" y="1297.8" width="5.7" height="5.7"/><rect x="656.1" y="1326.8" width="5.7" height="5.7"/><rect x="683.0" y="1374.9" width="5.7" height="5.7"/></g>
<polyline points="500.0,1365.8 514.3,1379.2 540.7,1373.9 564.4,1299.0 617.0,1362.5 655.6,1372.3 697.2,1384.9" fill="none" stroke="#2a1658" stroke-width="1.7" stroke-linejoin="round" clip-path="url(#eL)"/>
<g fill="#a690de" clip-path="url(#eL)"><circle cx="514.3" cy="1379.2" r="2.00"/><circle cx="540.7" cy="1373.9" r="2.00"/><circle cx="564.4" cy="1297.3" r="2.00"/><circle cx="617.0" cy="1362.5" r="2.00"/><circle cx="655.6" cy="1372.3" r="2.00"/><circle cx="697.2" cy="1384.9" r="2.00"/></g>
<g fill="#1446e8" clip-path="url(#eL)"><circle cx="561.1" cy="1305.5" r="2.85"/></g>
<polyline points="556.0,1490.0 561.2,1305.4 603.4,1459.0" fill="none" stroke="#22c4f6" stroke-width="1.6" stroke-linejoin="round" clip-path="url(#eL)"/>
<polyline points="569.4,1270.0 544.2,1494.5" fill="none" stroke="#62c4ca" stroke-width="1.4" stroke-linejoin="round" clip-path="url(#eL)"/>
<polyline points="581.2,1270.0 603.4,1427.9" fill="none" stroke="#62c4ca" stroke-width="1.4" stroke-linejoin="round" clip-path="url(#eL)"/>
<polyline points="389.0,1404.1 416.2,1374.4 456.7,1354.7 483.3,1351.2 514.0,1379.3 541.1,1374.1" fill="none" stroke="#2a1658" stroke-width="1.7" stroke-linejoin="round" clip-path="url(#eL)"/>
<g fill="#a690de" clip-path="url(#eL)"><circle cx="389.0" cy="1404.1" r="2.00"/><circle cx="416.2" cy="1374.4" r="2.00"/><circle cx="456.7" cy="1354.7" r="2.00"/><circle cx="483.3" cy="1351.2" r="2.00"/><circle cx="514.0" cy="1379.3" r="2.00"/><circle cx="541.1" cy="1374.1" r="2.00"/></g>
<polyline points="450.7,1466.7 477.3,1457.2 504.4,1464.0 531.0,1469.0" fill="none" stroke="#ff1010" stroke-width="1.6" stroke-linejoin="round" clip-path="url(#eL)"/>
<g fill="#f47a80" clip-path="url(#eL)"><circle cx="450.7" cy="1466.7" r="3.09"/><circle cx="477.3" cy="1457.2" r="3.09"/><circle cx="504.4" cy="1464.0" r="3.09"/><circle cx="531.0" cy="1469.0" r="3.09"/></g>
<polyline points="484.4,1458.3 511.1,1452.8 544.9,1433.8 565.0,1275.6" fill="none" stroke="#a690de" stroke-width="1.5" stroke-linejoin="round" clip-path="url(#eL)"/>
<g fill="#2a1658" clip-path="url(#eL)"><rect x="481.6" y="1455.5" width="5.7" height="5.7"/><rect x="508.3" y="1450.0" width="5.7" height="5.7"/><rect x="542.1" y="1430.9" width="5.7" height="5.7"/></g>
<polyline points="414.8,1475.6 446.8,1461.9 466.7,1464.0 520.9,1476.1 549.3,1470.2 580.4,1485.3 600.0,1472.9" fill="none" stroke="#1a6f77" stroke-width="1.6" stroke-linejoin="round" clip-path="url(#eL)"/>
<g fill="#1a6f77" clip-path="url(#eL)"><circle cx="414.8" cy="1475.6" r="1.75"/><circle cx="446.8" cy="1461.9" r="1.75"/><circle cx="466.7" cy="1464.0" r="1.75"/><circle cx="520.9" cy="1476.1" r="1.75"/><circle cx="549.3" cy="1470.2" r="1.75"/></g>
<polyline points="452.4,1497.4 476.4,1501.7 503.6,1472.0 530.3,1490.3 554.7,1470.2 562.7,1462.8 600.0,1477.3" fill="none" stroke="#1446e8" stroke-width="1.6" stroke-linejoin="round" clip-path="url(#eL)"/>
<polyline points="535.1,1507.6 554.7,1470.2 583.1,1506.7" fill="none" stroke="#1446e8" stroke-width="1.6" stroke-linejoin="round" clip-path="url(#eL)"/>
<polyline points="441.8,1485.7 468.8,1488.9 496.9,1493.9 522.7,1492.4 553.4,1493.9" fill="none" stroke="#ff5e14" stroke-width="1.6" stroke-linejoin="round" clip-path="url(#eL)"/>
<g fill="#f9a47c" clip-path="url(#eL)"><circle cx="441.8" cy="1485.7" r="2.38"/><circle cx="468.8" cy="1488.9" r="2.38"/><circle cx="496.9" cy="1493.9" r="2.38"/><circle cx="522.7" cy="1492.4" r="2.38"/><circle cx="553.4" cy="1493.9" r="2.38"/></g>
<polyline points="408.4,1498.7 435.6,1494.2 462.2,1499.9 495.1,1503.1 516.4,1489.8 543.1,1494.2" fill="none" stroke="#62c4ca" stroke-width="1.5" stroke-linejoin="round" clip-path="url(#eL)"/>
<g fill="#1a6f77" clip-path="url(#eL)"><rect x="405.4" y="1495.7" width="5.9" height="5.9"/><rect x="432.6" y="1491.3" width="5.9" height="5.9"/><rect x="459.3" y="1497.0" width="5.9" height="5.9"/><rect x="513.5" y="1486.9" width="5.9" height="5.9"/><rect x="540.2" y="1491.3" width="5.9" height="5.9"/></g>
<g fill="#1446e8" clip-path="url(#eL)"><circle cx="519.1" cy="1502.8" r="3.09"/></g>
<polyline points="495.1,1503.5 519.1,1502.8 536.0,1503.1" fill="none" stroke="#22c4f6" stroke-width="1.4" stroke-linejoin="round" clip-path="url(#eL)"/>
<polyline points="360.0,1511.6 600.0,1510.6" fill="none" stroke="#2a1658" stroke-width="2.2" stroke-linejoin="round" clip-path="url(#eL)"/>
<polyline points="360.0,1509.9 413.3,1508.8 484.4,1508.1 537.8,1507.6 600.0,1508.4" fill="none" stroke="#1446e8" stroke-width="1.8" stroke-linejoin="round" clip-path="url(#eL)"/>
<polyline points="360.0,1506.7 431.1,1506.3 502.2,1506.7 537.8,1505.8 573.3,1492.4 600.0,1494.2" fill="none" stroke="#ff5e14" stroke-width="1.7" stroke-linejoin="round" clip-path="url(#eL)"/>
<polyline points="360.0,1503.1 404.4,1506.7 466.7,1507.6 537.8,1506.7 552.0,1507.6 569.8,1499.6 578.7,1491.6 600.0,1492.4" fill="none" stroke="#ff1010" stroke-width="1.6" stroke-linejoin="round" clip-path="url(#eL)"/>
<polyline points="360.0,1506.7 413.3,1508.4 484.4,1509.3 555.6,1506.7 573.3,1489.8 600.0,1492.4" fill="none" stroke="#a690de" stroke-width="1.4" stroke-linejoin="round" clip-path="url(#eL)"/>
<polyline points="360.0,1504.9 448.9,1506.7 520.0,1507.6 555.6,1504.9 591.1,1504.0" fill="none" stroke="#f47a80" stroke-width="1.3" stroke-linejoin="round" clip-path="url(#eL)"/>
<polyline points="495.1,1503.1 537.8,1504.9 555.6,1503.1" fill="none" stroke="#62c4ca" stroke-width="1.3" stroke-linejoin="round" clip-path="url(#eL)"/>
<g fill="#2a1658" clip-path="url(#eL)"><circle cx="575.1" cy="1485.0" r="3.09"/></g>
<g fill="#ff1010" clip-path="url(#eL)"><circle cx="384.0" cy="1513.4" r="2.00"/><circle cx="410.7" cy="1512.9" r="2.00"/><circle cx="452.4" cy="1512.9" r="2.00"/><circle cx="479.1" cy="1512.9" r="2.00"/></g>
<g fill="#a690de" clip-path="url(#eL)"><circle cx="362.7" cy="1512.0" r="2.00"/><circle cx="466.7" cy="1512.4" r="2.00"/><circle cx="541.3" cy="1511.6" r="2.00"/></g>
<g fill="#1446e8" clip-path="url(#eL)"><circle cx="386.7" cy="1503.1" r="2.00"/><circle cx="425.8" cy="1508.1" r="2.00"/><circle cx="443.6" cy="1507.7" r="2.00"/><circle cx="548.4" cy="1507.7" r="2.00"/></g>
<g fill="#1a6f77" clip-path="url(#eL)"><polygon points="360.0,1504.0 362.8,1508.8 357.2,1508.8"/><polygon points="386.7,1503.7 389.4,1508.4 383.9,1508.4"/></g>
<g fill="#ff1010" clip-path="url(#eL)"><polygon points="563.6,1497.0 566.7,1500.4 563.6,1503.9 560.4,1500.4"/><polygon points="591.1,1500.5 594.3,1504.0 591.1,1507.5 588.0,1504.0"/></g>
<polyline points="553.9,1494.2 571.0,1428.1 603.6,1460.7 637.0,1473.8 663.9,1487.1 710.8,1489.3" fill="none" stroke="#ff5e14" stroke-width="1.6" stroke-linejoin="round" clip-path="url(#eL)"/>
<g fill="#f9a47c" clip-path="url(#eL)"><circle cx="571.0" cy="1428.1" r="2.38"/><circle cx="603.6" cy="1460.7" r="2.38"/><circle cx="637.0" cy="1473.8" r="2.38"/><circle cx="663.9" cy="1487.1" r="2.38"/><circle cx="710.8" cy="1489.3" r="2.38"/></g>
<polyline points="592.2,1420.0 603.6,1459.1" fill="none" stroke="#22c4f6" stroke-width="1.5" stroke-linejoin="round" clip-path="url(#eL)"/>
<g fill="#1446e8" clip-path="url(#eL)"><circle cx="603.6" cy="1459.1" r="2.85"/></g>
<polyline points="540.0,1481.9 562.8,1463.2 610.1,1481.9 657.3,1497.9 717.6,1501.5" fill="none" stroke="#1446e8" stroke-width="1.6" stroke-linejoin="round" clip-path="url(#eL)"/>
<polyline points="540.0,1472.2 549.8,1470.5 580.7,1486.0 607.6,1468.9 630.4,1495.3 657.3,1486.0 690.7,1479.5" fill="none" stroke="#1a6f77" stroke-width="1.6" stroke-linejoin="round" clip-path="url(#eL)"/>
<g fill="#1a6f77" clip-path="url(#eL)"><circle cx="549.8" cy="1470.5" r="1.75"/><circle cx="580.7" cy="1486.0" r="1.75"/><circle cx="607.6" cy="1468.9" r="1.75"/><circle cx="630.4" cy="1495.3" r="1.75"/><circle cx="657.3" cy="1486.0" r="1.75"/><circle cx="690.7" cy="1479.5" r="1.75"/></g>
<polyline points="554.7,1470.8 582.4,1506.4 622.3,1508.0" fill="none" stroke="#1446e8" stroke-width="1.6" stroke-linejoin="round" clip-path="url(#eL)"/>
<g fill="#1446e8" clip-path="url(#eL)"><circle cx="622.3" cy="1508.0" r="2.00"/></g>
<polyline points="574.2,1484.9 628.0,1503.9" fill="none" stroke="#a690de" stroke-width="1.4" stroke-linejoin="round" clip-path="url(#eL)"/>
<g fill="#2a1658" clip-path="url(#eL)"><circle cx="574.2" cy="1484.9" r="3.09"/><circle cx="628.0" cy="1503.9" r="3.09"/></g>
<polyline points="540.0,1508.0 564.4,1499.9 579.1,1491.7 629.6,1501.5 658.2,1497.4 717.6,1503.9" fill="none" stroke="#ff1010" stroke-width="1.7" stroke-linejoin="round" clip-path="url(#eL)"/>
<g fill="#ff1010" clip-path="url(#eL)"><polygon points="564.4,1496.1 567.9,1499.9 564.4,1503.6 561.0,1499.9"/><polygon points="590.5,1500.2 593.9,1503.9 590.5,1507.7 587.1,1503.9"/><polygon points="610.9,1499.7 614.3,1503.4 610.9,1507.2 607.5,1503.4"/><polygon points="652.5,1505.1 655.9,1508.8 652.5,1512.6 649.0,1508.8"/></g>
<polyline points="564.4,1499.9 590.5,1503.9 610.9,1503.4 652.5,1508.8" fill="none" stroke="#f47a80" stroke-width="1.3" stroke-linejoin="round" clip-path="url(#eL)"/>
<polyline points="540.0,1504.7 569.3,1491.7 605.2,1493.3 637.8,1498.2 686.7,1503.1 717.6,1504.7" fill="none" stroke="#ff5e14" stroke-width="1.5" stroke-linejoin="round" clip-path="url(#eL)"/>
<polyline points="636.2,1503.9 656.0,1504.7 697.3,1505.1 716.8,1505.1 737.2,1505.1" fill="none" stroke="#22c4f6" stroke-width="1.6" stroke-linejoin="round" clip-path="url(#eL)"/>
<g fill="#1446e8" clip-path="url(#eL)"><rect x="633.2" y="1501.0" width="5.9" height="5.9"/><rect x="653.1" y="1501.8" width="5.9" height="5.9"/><rect x="694.3" y="1502.1" width="5.9" height="5.9"/><rect x="713.9" y="1502.1" width="5.9" height="5.9"/><rect x="734.3" y="1502.1" width="5.9" height="5.9"/></g>
<polyline points="603.6,1428.1 631.3,1495.0 678.5,1498.2 717.6,1501.5" fill="none" stroke="#62c4ca" stroke-width="1.4" stroke-linejoin="round" clip-path="url(#eL)"/>
<g fill="#1a6f77" clip-path="url(#eL)"><rect x="600.7" y="1425.3" width="5.7" height="5.7"/></g>
<polyline points="575.9,1491.7 605.2,1494.6 657.3,1497.9" fill="none" stroke="#1446e8" stroke-width="1.4" stroke-linejoin="round" clip-path="url(#eL)"/>
<g fill="#1446e8" clip-path="url(#eL)"><rect x="573.4" y="1489.2" width="5.0" height="5.0"/><rect x="601.1" y="1492.2" width="5.0" height="5.0"/></g>
<polyline points="540.0,1510.4 588.9,1509.3 637.8,1511.3 686.7,1511.6" fill="none" stroke="#2a1658" stroke-width="1.6" stroke-linejoin="round" clip-path="url(#eL)"/>
<polyline points="556.3,1504.7 605.2,1498.2 654.1,1501.5 703.0,1503.9" fill="none" stroke="#f9a47c" stroke-width="1.3" stroke-linejoin="round" clip-path="url(#eL)"/>
<polyline points="273.4,1510.7 299.9,1510.7 327.6,1510.7 348.0,1509.1 406.7,1508.3 480.0,1507.8" fill="none" stroke="#62c4ca" stroke-width="1.5" stroke-linejoin="round" clip-path="url(#eL)"/>
<g fill="#1a6f77" clip-path="url(#eL)"><polygon points="273.4,1507.1 277.2,1513.7 269.5,1513.7"/><polygon points="299.9,1507.1 303.8,1513.7 296.1,1513.7"/><polygon points="327.6,1507.1 331.5,1513.7 323.8,1513.7"/></g>
<polyline points="320.3,1509.1 345.6,1505.0 390.4,1507.5 480.0,1506.7" fill="none" stroke="#a690de" stroke-width="1.4" stroke-linejoin="round" clip-path="url(#eL)"/>
<g fill="#2a1658" clip-path="url(#eL)"><circle cx="320.3" cy="1509.1" r="3.09"/><circle cx="345.6" cy="1505.0" r="3.09"/></g>
<polyline points="347.2,1502.6 374.1,1506.2 423.0,1505.0 480.0,1504.2" fill="none" stroke="#ff1010" stroke-width="1.6" stroke-linejoin="round" clip-path="url(#eL)"/>
<polyline points="348.0,1506.7 406.7,1506.2 480.0,1505.0" fill="none" stroke="#ff5e14" stroke-width="1.6" stroke-linejoin="round" clip-path="url(#eL)"/>
<polyline points="348.0,1509.9 406.7,1509.1 480.0,1508.3" fill="none" stroke="#1446e8" stroke-width="1.7" stroke-linejoin="round" clip-path="url(#eL)"/>
<g fill="#ff1010" clip-path="url(#eL)"><circle cx="347.2" cy="1502.6" r="2.00"/><circle cx="384.7" cy="1513.2" r="2.00"/><circle cx="409.9" cy="1513.2" r="2.00"/><circle cx="452.3" cy="1513.2" r="2.00"/></g>
<g fill="#1446e8" clip-path="url(#eL)"><circle cx="348.0" cy="1509.9" r="2.00"/><circle cx="424.6" cy="1508.8" r="2.00"/><circle cx="467.0" cy="1512.7" r="2.00"/></g>
<polyline points="1100.0,1506.7 1126.7,1504.0 1153.0,1455.1 1178.2,1500.4 1206.7,1504.9 1235.1,1507.6 1293.8,1508.4" fill="none" stroke="#f9a47c" stroke-width="1.5" stroke-linejoin="round" clip-path="url(#fL)"/>
<g fill="#ff5e14" clip-path="url(#fL)"><polygon points="1153.0,1458.8 1156.8,1452.1 1149.1,1452.1"/></g>
<g fill="#ff5e14" clip-path="url(#fL)"><circle cx="1178.2" cy="1500.4" r="2.38"/><circle cx="1206.7" cy="1504.9" r="2.38"/></g>
<polyline points="1100.0,1508.4 1140.9,1504.0 1161.3,1483.6 1188.0,1504.9 1214.7,1501.9 1240.4,1507.2 1300.9,1510.2 1320.4,1509.7" fill="none" stroke="#62c4ca" stroke-width="1.5" stroke-linejoin="round" clip-path="url(#fL)"/>
<g fill="#1a6f77" clip-path="url(#fL)"><polygon points="1140.9,1500.3 1144.7,1507.0 1137.0,1507.0"/><polygon points="1161.3,1479.9 1165.2,1486.5 1157.5,1486.5"/><polygon points="1188.0,1501.2 1191.8,1507.9 1184.2,1507.9"/><polygon points="1214.7,1498.2 1218.5,1504.8 1210.8,1504.8"/><polygon points="1240.4,1503.5 1244.3,1510.2 1236.6,1510.2"/><polygon points="1300.9,1506.5 1304.7,1513.2 1297.0,1513.2"/></g>
<polyline points="1100.0,1503.1 1140.9,1500.1 1180.9,1495.5 1207.6,1494.8 1241.3,1497.8 1288.1,1500.8" fill="none" stroke="#f47a80" stroke-width="1.5" stroke-linejoin="round" clip-path="url(#fL)"/>
<g fill="#ff1010" clip-path="url(#fL)"><polygon points="1100.0,1499.1 1103.7,1503.1 1100.0,1507.1 1096.3,1503.1"/><polygon points="1140.9,1496.1 1144.6,1500.1 1140.9,1504.1 1137.2,1500.1"/><polygon points="1180.9,1491.4 1184.6,1495.5 1180.9,1499.5 1177.2,1495.5"/><polygon points="1207.6,1490.7 1211.2,1494.8 1207.6,1498.8 1203.9,1494.8"/><polygon points="1241.3,1493.8 1245.0,1497.8 1241.3,1501.8 1237.7,1497.8"/><polygon points="1288.1,1496.8 1291.8,1500.8 1288.1,1504.8 1284.4,1500.8"/></g>
<polyline points="1100.0,1507.6 1126.7,1507.2 1150.7,1496.0 1174.7,1507.6 1206.7,1508.4" fill="none" stroke="#22c4f6" stroke-width="1.5" stroke-linejoin="round" clip-path="url(#fL)"/>
<g fill="#1446e8" clip-path="url(#fL)"><rect x="1147.5" y="1492.8" width="6.3" height="6.3"/></g>
<polyline points="1100.0,1510.2 1144.4,1510.2 1171.1,1498.7 1199.6,1507.6 1235.1,1508.4 1287.6,1507.6" fill="none" stroke="#1446e8" stroke-width="1.6" stroke-linejoin="round" clip-path="url(#fL)"/>
<g fill="#1446e8" clip-path="url(#fL)"><rect x="1176.6" y="1505.1" width="5.0" height="5.0"/><rect x="1199.7" y="1510.4" width="5.0" height="5.0"/><rect x="1222.0" y="1510.4" width="5.0" height="5.0"/><rect x="1231.7" y="1506.9" width="5.0" height="5.0"/><rect x="1258.4" y="1506.9" width="5.0" height="5.0"/><rect x="1285.1" y="1505.1" width="5.0" height="5.0"/></g>
<g fill="#2a1658" clip-path="url(#fL)"><circle cx="1153.3" cy="1506.7" r="2.85"/><circle cx="1122.2" cy="1512.5" r="2.85"/><circle cx="1257.3" cy="1512.5" r="2.85"/></g>
<polyline points="1100.0,1507.2 1156.9,1502.2 1242.2,1506.7 1320.4,1509.3" fill="none" stroke="#1a6f77" stroke-width="1.5" stroke-linejoin="round" clip-path="url(#fL)"/>
<polyline points="1100.0,1511.1 1153.3,1510.2 1206.7,1510.8 1295.6,1510.8" fill="none" stroke="#2a1658" stroke-width="1.8" stroke-linejoin="round" clip-path="url(#fL)"/>
<polyline points="1100.0,1511.5 1206.7,1511.1 1295.6,1511.1" fill="none" stroke="#ff1010" stroke-width="1.4" stroke-linejoin="round" clip-path="url(#fL)"/>
<polyline points="1100.0,1510.8 1206.7,1510.4 1295.6,1510.2" fill="none" stroke="#ff5e14" stroke-width="1.3" stroke-linejoin="round" clip-path="url(#fL)"/>
<polyline points="907.0,1512.0 938.0,1511.6 1020.0,1511.6 1150.0,1510.0" fill="none" stroke="#a690de" stroke-width="1.5" stroke-linejoin="round" clip-path="url(#fL)"/>
<polyline points="907.0,1512.4 1000.0,1512.4 1150.0,1512.0" fill="none" stroke="#2a1658" stroke-width="2.0" stroke-linejoin="round" clip-path="url(#fL)"/>
<polyline points="940.0,1512.0 985.0,1506.0 999.6,1505.6 1080.0,1498.4 1097.0,1505.6 1150.0,1505.0" fill="none" stroke="#62c4ca" stroke-width="1.5" stroke-linejoin="round" clip-path="url(#fL)"/>
<g fill="#1a6f77" clip-path="url(#fL)"><polygon points="985.0,1502.2 988.6,1508.4 981.4,1508.4"/><polygon points="999.6,1502.2 1003.2,1508.4 996.0,1508.4"/><polygon points="1080.0,1495.0 1083.6,1501.2 1076.4,1501.2"/><polygon points="1107.0,1502.6 1110.6,1508.8 1103.4,1508.8"/></g>
<polyline points="938.0,1511.0 988.0,1510.0 1040.0,1505.0 1100.0,1509.0 1150.0,1508.0" fill="none" stroke="#1446e8" stroke-width="1.6" stroke-linejoin="round" clip-path="url(#fL)"/>
<polyline points="940.0,1510.0 1020.0,1507.0 1100.0,1508.0 1150.0,1496.0" fill="none" stroke="#22c4f6" stroke-width="1.4" stroke-linejoin="round" clip-path="url(#fL)"/>
<polyline points="940.0,1511.0 1020.0,1507.0 1080.0,1508.4 1150.0,1508.0" fill="none" stroke="#ff5e14" stroke-width="1.5" stroke-linejoin="round" clip-path="url(#fL)"/>
<polyline points="940.0,1512.0 1020.0,1511.6 1150.0,1511.0" fill="none" stroke="#ff1010" stroke-width="1.4" stroke-linejoin="round" clip-path="url(#fL)"/>
<polyline points="1090.0,1506.0 1128.0,1503.0 1150.0,1500.0" fill="none" stroke="#f47a80" stroke-width="1.4" stroke-linejoin="round" clip-path="url(#fL)"/>
<g fill="#ff1010" clip-path="url(#fL)"><polygon points="1099.0,1499.5 1102.2,1503.0 1099.0,1506.5 1095.8,1503.0"/><polygon points="978.0,1508.5 981.1,1512.0 978.0,1515.5 974.9,1512.0"/><polygon points="1020.0,1509.0 1023.1,1512.4 1020.0,1515.9 1016.9,1512.4"/><polygon points="1073.0,1509.0 1076.2,1512.4 1073.0,1515.9 1069.8,1512.4"/></g>
<g fill="#ff5e14" clip-path="url(#fL)"><rect x="1123.5" y="1501.5" width="5.0" height="5.0"/><rect x="961.5" y="1507.5" width="5.0" height="5.0"/></g>
<g fill="#1446e8" clip-path="url(#fL)"><rect x="985.3" y="1504.3" width="5.4" height="5.4"/></g>
<g fill="#2a1658" clip-path="url(#fL)"><circle cx="907.0" cy="1512.0" r="3.09"/><circle cx="954.0" cy="1512.0" r="3.09"/><circle cx="988.0" cy="1512.0" r="3.09"/><circle cx="1014.0" cy="1512.0" r="3.09"/><circle cx="1068.0" cy="1512.0" r="3.09"/><circle cx="1122.0" cy="1512.0" r="3.09"/></g>
<g fill="#1446e8" clip-path="url(#fL)"><circle cx="938.0" cy="1511.0" r="2.38"/><circle cx="992.0" cy="1511.0" r="2.38"/><circle cx="1046.0" cy="1512.0" r="2.38"/><circle cx="1072.0" cy="1511.0" r="2.38"/><circle cx="1100.0" cy="1510.0" r="2.38"/></g>
<g fill="#ff5e14" clip-path="url(#fL)"><circle cx="964.0" cy="1512.4" r="2.25"/><circle cx="992.0" cy="1513.0" r="2.25"/><circle cx="1044.0" cy="1506.0" r="2.25"/></g>
</svg></body></html>
